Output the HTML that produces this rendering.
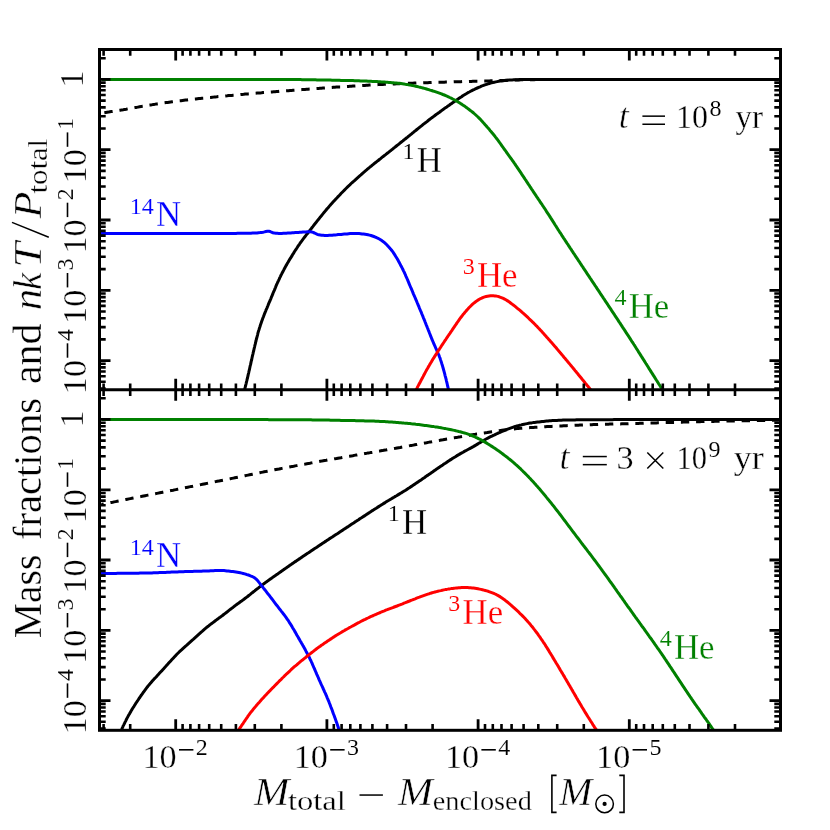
<!DOCTYPE html>
<html><head><meta charset="utf-8"><title>Mass fractions</title>
<style>html,body{margin:0;padding:0;background:#fff;}svg{display:block;will-change:transform;}text{font-family:"Liberation Serif",serif;stroke:#fff;stroke-width:0.3px;paint-order:fill stroke;}.s{stroke-width:0.1px;}.it{font-style:italic;stroke-width:0.5px;}</style></head><body>
<svg width="830" height="830" viewBox="0 0 830 830">
<rect width="830" height="830" fill="#fff"/>
<defs>
<clipPath id="ct"><rect x="99.5" y="49.5" width="681.0" height="340.3"/></clipPath>
<clipPath id="cb"><rect x="99.5" y="389.8" width="681.0" height="340.49999999999994"/></clipPath>
</defs>
<g clip-path="url(#ct)" fill="none" stroke-width="3.0" stroke-linejoin="round">
<path d="M101.5,113.1 L102.3,113.0 L103.3,112.9 L104.4,112.7 L105.7,112.5 L107.1,112.3 L108.5,112.1 L109.9,111.8 L111.4,111.6 L112.9,111.4 L114.3,111.1 L115.8,110.9 L117.3,110.7 L118.8,110.4 L120.3,110.2 L121.7,109.9 L123.2,109.7 L124.7,109.4 L126.2,109.2 L127.6,108.9 L129.1,108.6 L130.6,108.4 L132.1,108.1 L133.6,107.9 L135.0,107.6 L136.5,107.4 L138.0,107.1 L139.5,106.8 L141.0,106.6 L142.4,106.3 L143.9,106.1 L145.4,105.8 L146.9,105.6 L148.4,105.3 L149.8,105.1 L151.3,104.9 L152.8,104.6 L154.3,104.4 L155.8,104.1 L157.2,103.9 L158.7,103.7 L160.2,103.4 L161.7,103.2 L163.2,103.0 L164.7,102.8 L166.1,102.6 L167.6,102.4 L169.1,102.2 L170.6,102.0 L172.1,101.8 L173.6,101.6 L175.0,101.4 L176.5,101.2 L178.0,101.0 L179.5,100.8 L181.0,100.7 L182.5,100.5 L184.0,100.3 L185.5,100.1 L187.0,100.0 L188.4,99.8 L189.9,99.6 L191.4,99.4 L192.9,99.3 L194.4,99.1 L195.9,99.0 L197.4,98.8 L198.9,98.6 L200.4,98.5 L201.9,98.3 L203.4,98.2 L204.8,98.0 L206.3,97.8 L207.8,97.7 L209.3,97.5 L210.8,97.4 L212.3,97.2 L213.8,97.1 L215.3,96.9 L216.8,96.8 L218.3,96.6 L219.8,96.5 L221.3,96.4 L222.8,96.2 L224.3,96.1 L225.8,95.9 L227.2,95.8 L228.7,95.6 L230.2,95.5 L231.7,95.4 L233.2,95.2 L234.7,95.1 L236.2,94.9 L237.7,94.8 L239.2,94.7 L240.7,94.5 L242.2,94.4 L243.7,94.3 L245.2,94.1 L246.7,94.0 L248.2,93.9 L249.7,93.8 L251.2,93.6 L252.6,93.5 L254.1,93.4 L255.6,93.2 L257.1,93.1 L258.6,93.0 L260.1,92.9 L261.6,92.8 L263.1,92.6 L264.6,92.5 L266.1,92.4 L267.6,92.3 L269.1,92.2 L270.6,92.0 L272.1,91.9 L273.6,91.8 L275.1,91.7 L276.6,91.6 L278.1,91.5 L279.6,91.3 L281.1,91.2 L282.6,91.1 L284.0,91.0 L285.5,90.9 L287.0,90.8 L288.5,90.7 L290.0,90.5 L291.5,90.4 L293.0,90.3 L294.5,90.2 L296.0,90.1 L297.5,90.0 L299.0,89.9 L300.5,89.7 L302.0,89.6 L303.5,89.5 L305.0,89.4 L306.5,89.3 L308.0,89.2 L309.5,89.1 L311.0,89.0 L312.5,88.8 L314.0,88.7 L315.5,88.6 L317.0,88.5 L318.5,88.4 L319.9,88.3 L321.4,88.2 L322.9,88.1 L324.4,88.0 L325.9,87.9 L327.4,87.8 L328.9,87.7 L330.4,87.6 L331.9,87.5 L333.4,87.3 L334.9,87.2 L336.4,87.1 L337.9,87.0 L339.4,86.9 L340.9,86.9 L342.4,86.8 L343.9,86.7 L345.4,86.6 L346.9,86.5 L348.4,86.4 L349.9,86.3 L351.4,86.2 L352.9,86.1 L354.4,86.0 L355.9,85.9 L357.4,85.8 L358.9,85.7 L360.4,85.6 L361.9,85.6 L363.4,85.5 L364.9,85.4 L366.4,85.3 L367.8,85.2 L369.3,85.1 L370.8,85.0 L372.3,85.0 L373.8,84.9 L375.3,84.8 L376.8,84.7 L378.3,84.6 L379.8,84.6 L381.3,84.5 L382.8,84.4 L384.3,84.3 L385.8,84.3 L387.3,84.2 L388.8,84.1 L390.3,84.1 L391.8,84.0 L393.3,83.9 L394.8,83.9 L396.3,83.8 L397.8,83.7 L399.3,83.7 L400.8,83.6 L402.3,83.6 L403.8,83.5 L405.3,83.4 L406.8,83.4 L408.3,83.3 L409.8,83.3 L411.3,83.2 L412.8,83.2 L414.3,83.1 L415.8,83.1 L417.3,83.0 L418.8,83.0 L420.3,82.9 L421.8,82.9 L423.3,82.8 L424.8,82.8 L426.3,82.7 L427.8,82.7 L429.3,82.6 L430.8,82.6 L432.3,82.5 L433.8,82.5 L435.3,82.4 L436.8,82.4 L438.3,82.3 L439.8,82.3 L441.3,82.2 L442.8,82.2 L444.3,82.2 L445.8,82.1 L447.3,82.1 L448.8,82.0 L450.3,82.0 L451.8,81.9 L453.3,81.9 L454.8,81.8 L456.3,81.8 L457.8,81.8 L459.3,81.7 L460.8,81.7 L462.3,81.6 L463.8,81.6 L465.3,81.5 L466.8,81.5 L468.3,81.5 L469.8,81.4 L471.3,81.4 L472.8,81.3 L474.3,81.3 L475.8,81.2 L477.3,81.2 L478.8,81.2 L480.3,81.1 L481.8,81.1 L483.3,81.0 L484.8,81.0 L486.3,81.0 L487.8,80.9 L489.3,80.9 L490.8,80.8 L492.3,80.8 L493.8,80.7 L495.3,80.7 L496.8,80.6 L498.3,80.6 L499.8,80.5 L501.3,80.5 L502.8,80.4 L504.3,80.4 L505.8,80.3 L507.3,80.3 L508.8,80.2 L510.3,80.2 L511.8,80.1 L513.3,80.1 L514.8,80.0 L516.3,80.0 L517.8,79.9 L519.3,79.9 L520.8,79.8 L522.3,79.8 L523.7,79.8 L525.2,79.8 L526.7,79.7 L528.2,79.7 L529.7,79.7 L531.2,79.7 L532.7,79.7 L534.2,79.7 L535.7,79.6 L537.2,79.6 L538.7,79.6 L540.2,79.6 L541.7,79.6 L543.2,79.6 L544.7,79.6 L546.2,79.6 L547.7,79.6 L549.2,79.6 L550.7,79.5 L552.2,79.5 L553.7,79.5 L555.2,79.5 L556.7,79.5 L558.2,79.5 L559.7,79.5 L561.2,79.5 L562.7,79.5 L564.2,79.5 L565.7,79.5 L567.2,79.5 L568.7,79.5 L570.2,79.5 L571.7,79.4 L573.2,79.4 L574.7,79.4 L576.2,79.4 L577.7,79.4 L579.2,79.4 L580.7,79.4 L582.2,79.4 L583.7,79.4 L585.2,79.4 L586.7,79.4 L588.2,79.4 L589.7,79.4 L591.2,79.4 L592.7,79.4 L594.2,79.4 L595.7,79.4 L597.2,79.4 L598.7,79.4 L600.2,79.4 L601.7,79.4 L603.2,79.4 L604.7,79.4 L606.2,79.4 L607.7,79.4 L609.2,79.4 L610.7,79.4 L612.2,79.4 L613.7,79.4 L615.2,79.4 L616.7,79.4 L618.2,79.4 L619.7,79.4 L621.2,79.4 L622.7,79.4 L624.2,79.4 L625.7,79.4 L627.2,79.4 L628.7,79.4 L630.2,79.4 L631.7,79.4 L633.2,79.4 L634.7,79.4 L636.2,79.4 L637.7,79.4 L639.2,79.4 L640.7,79.4 L642.2,79.4 L643.7,79.4 L645.2,79.4 L646.7,79.4 L648.2,79.4 L649.7,79.4 L651.2,79.4 L652.7,79.4 L654.2,79.4 L655.7,79.4 L657.2,79.4 L658.7,79.4 L660.2,79.4 L661.7,79.4 L663.2,79.4 L664.7,79.4 L666.2,79.4 L667.7,79.4 L669.2,79.4 L670.7,79.4 L672.2,79.4 L673.7,79.4 L675.2,79.4 L676.7,79.4 L678.2,79.4 L679.7,79.4 L681.2,79.4 L682.7,79.4 L684.2,79.4 L685.7,79.4 L687.2,79.4 L688.7,79.4 L690.2,79.4 L691.7,79.4 L693.2,79.4 L694.7,79.4 L696.2,79.4 L697.7,79.4 L699.2,79.4 L700.7,79.4 L702.2,79.4 L703.7,79.4 L705.2,79.4 L706.7,79.4 L708.2,79.4 L709.7,79.4 L711.2,79.4 L712.7,79.4 L714.2,79.4 L715.7,79.4 L717.2,79.4 L718.7,79.4 L720.2,79.4 L721.7,79.4 L723.2,79.4 L724.7,79.4 L726.2,79.4 L727.7,79.4 L729.2,79.4 L730.7,79.4 L732.2,79.4 L733.7,79.4 L735.2,79.4 L736.7,79.4 L738.2,79.4 L739.7,79.4 L741.2,79.4 L742.7,79.4 L744.2,79.4 L745.7,79.4 L747.2,79.4 L748.7,79.4 L750.2,79.4 L751.7,79.4 L753.2,79.4 L754.7,79.4 L756.2,79.4 L757.7,79.4 L759.2,79.4 L760.7,79.4 L762.2,79.4 L763.7,79.4 L765.2,79.4 L766.7,79.4 L768.2,79.4 L769.7,79.4 L771.2,79.4 L772.6,79.4 L774.0,79.4 L775.3,79.4 L776.5,79.4 L777.6,79.4 L778.5,79.4" stroke="#000000" stroke-dasharray="8.4 6.87" stroke-dashoffset="12.4"/>
<path d="M243.8,393.1 L244.0,392.3 L244.2,391.3 L244.5,390.1 L244.8,388.9 L245.1,387.6 L245.5,386.2 L245.8,384.8 L246.2,383.3 L246.5,381.9 L246.9,380.4 L247.2,379.0 L247.6,377.5 L247.9,376.1 L248.2,374.6 L248.6,373.1 L248.9,371.7 L249.3,370.2 L249.6,368.7 L249.9,367.3 L250.2,365.8 L250.6,364.4 L250.9,362.9 L251.2,361.4 L251.6,360.0 L251.9,358.5 L252.2,357.0 L252.5,355.6 L252.9,354.1 L253.2,352.6 L253.6,351.2 L253.9,349.7 L254.2,348.3 L254.6,346.8 L254.9,345.3 L255.3,343.9 L255.6,342.4 L256.0,341.0 L256.3,339.5 L256.7,338.0 L257.1,336.6 L257.5,335.1 L257.8,333.7 L258.2,332.2 L258.6,330.8 L259.1,329.4 L259.5,327.9 L260.0,326.5 L260.4,325.1 L260.9,323.7 L261.4,322.2 L261.9,320.8 L262.4,319.4 L262.9,318.0 L263.5,316.6 L264.0,315.2 L264.5,313.8 L265.1,312.4 L265.7,311.0 L266.2,309.6 L266.8,308.3 L267.4,306.9 L268.0,305.5 L268.5,304.1 L269.1,302.7 L269.7,301.3 L270.3,300.0 L270.9,298.6 L271.4,297.2 L272.0,295.8 L272.6,294.4 L273.1,293.0 L273.7,291.6 L274.3,290.3 L274.9,288.9 L275.5,287.5 L276.0,286.1 L276.6,284.7 L277.2,283.4 L277.8,282.0 L278.5,280.6 L279.1,279.3 L279.7,277.9 L280.4,276.6 L281.0,275.2 L281.7,273.9 L282.4,272.5 L283.1,271.2 L283.8,269.9 L284.5,268.5 L285.2,267.2 L285.9,265.9 L286.7,264.6 L287.4,263.3 L288.2,262.0 L288.9,260.7 L289.7,259.4 L290.5,258.2 L291.3,256.9 L292.1,255.6 L292.8,254.3 L293.6,253.1 L294.4,251.8 L295.2,250.5 L296.0,249.3 L296.9,248.0 L297.7,246.7 L298.5,245.5 L299.4,244.3 L300.2,243.0 L301.1,241.8 L302.0,240.6 L302.9,239.4 L303.8,238.2 L304.7,237.0 L305.6,235.8 L306.5,234.6 L307.5,233.5 L308.4,232.3 L309.3,231.1 L310.2,229.9 L311.2,228.7 L312.1,227.5 L313.0,226.4 L313.9,225.2 L314.8,224.0 L315.8,222.8 L316.7,221.6 L317.6,220.4 L318.6,219.3 L319.5,218.1 L320.4,216.9 L321.4,215.8 L322.3,214.6 L323.3,213.4 L324.2,212.3 L325.2,211.1 L326.1,210.0 L327.1,208.8 L328.1,207.7 L329.0,206.6 L330.0,205.4 L331.0,204.3 L332.0,203.2 L333.0,202.1 L334.0,201.0 L335.1,199.9 L336.1,198.7 L337.1,197.7 L338.1,196.6 L339.2,195.5 L340.2,194.4 L341.2,193.3 L342.3,192.2 L343.3,191.2 L344.4,190.1 L345.5,189.0 L346.5,188.0 L347.6,186.9 L348.7,185.9 L349.8,184.9 L350.9,183.8 L351.9,182.8 L353.0,181.8 L354.2,180.8 L355.3,179.8 L356.4,178.8 L357.5,177.8 L358.6,176.8 L359.7,175.8 L360.9,174.8 L362.0,173.8 L363.1,172.8 L364.3,171.8 L365.4,170.9 L366.6,169.9 L367.7,168.9 L368.9,168.0 L370.0,167.0 L371.2,166.1 L372.3,165.1 L373.5,164.2 L374.7,163.2 L375.9,162.3 L377.0,161.4 L378.2,160.5 L379.4,159.5 L380.6,158.6 L381.7,157.7 L382.9,156.7 L384.1,155.8 L385.3,154.9 L386.5,153.9 L387.6,153.0 L388.8,152.1 L390.0,151.1 L391.2,150.2 L392.3,149.3 L393.5,148.3 L394.7,147.4 L395.8,146.5 L397.0,145.5 L398.2,144.6 L399.4,143.7 L400.5,142.7 L401.7,141.8 L402.9,140.9 L404.0,139.9 L405.2,139.0 L406.4,138.0 L407.6,137.1 L408.7,136.1 L409.9,135.2 L411.0,134.3 L412.2,133.3 L413.4,132.4 L414.5,131.4 L415.7,130.5 L416.9,129.5 L418.0,128.6 L419.2,127.6 L420.4,126.7 L421.5,125.8 L422.7,124.8 L423.9,123.9 L425.1,123.0 L426.3,122.1 L427.5,121.2 L428.6,120.2 L429.8,119.3 L431.0,118.4 L432.2,117.5 L433.4,116.6 L434.6,115.7 L435.8,114.8 L437.0,113.9 L438.3,113.0 L439.5,112.2 L440.7,111.3 L441.9,110.4 L443.1,109.5 L444.3,108.6 L445.5,107.8 L446.8,106.9 L448.0,106.0 L449.2,105.2 L450.4,104.3 L451.7,103.4 L452.9,102.6 L454.1,101.7 L455.4,100.9 L456.6,100.0 L457.8,99.2 L459.1,98.3 L460.3,97.5 L461.6,96.7 L462.8,95.8 L464.1,95.0 L465.4,94.2 L466.6,93.5 L467.9,92.7 L469.3,92.0 L470.6,91.3 L471.9,90.6 L473.2,89.9 L474.6,89.3 L475.9,88.6 L477.3,88.0 L478.7,87.4 L480.1,86.8 L481.4,86.2 L482.8,85.7 L484.2,85.1 L485.6,84.6 L487.1,84.2 L488.5,83.7 L489.9,83.3 L491.4,82.9 L492.8,82.5 L494.3,82.2 L495.8,81.9 L497.2,81.6 L498.7,81.3 L500.2,81.1 L501.7,80.9 L503.2,80.7 L504.6,80.5 L506.1,80.4 L507.6,80.2 L509.1,80.1 L510.6,80.0 L512.1,79.9 L513.6,79.8 L515.1,79.8 L516.6,79.7 L518.1,79.7 L519.6,79.6 L521.1,79.6 L522.6,79.6 L524.1,79.5 L525.6,79.5 L527.1,79.5 L528.6,79.5 L530.1,79.4 L531.6,79.4 L533.1,79.4 L534.6,79.4 L536.1,79.4 L537.6,79.4 L539.1,79.4 L540.6,79.4 L542.1,79.4 L543.6,79.4 L545.1,79.4 L546.6,79.4 L548.1,79.4 L549.6,79.4 L551.1,79.4 L552.6,79.4 L554.1,79.4 L555.6,79.4 L557.1,79.4 L558.6,79.4 L560.1,79.4 L561.6,79.4 L563.1,79.4 L564.6,79.4 L566.1,79.4 L567.6,79.4 L569.1,79.4 L570.6,79.4 L572.1,79.4 L573.6,79.4 L575.1,79.4 L576.6,79.4 L578.1,79.4 L579.6,79.4 L581.1,79.4 L582.6,79.4 L584.1,79.4 L585.6,79.4 L587.1,79.4 L588.6,79.4 L590.1,79.4 L591.6,79.4 L593.1,79.4 L594.6,79.4 L596.1,79.4 L597.6,79.4 L599.1,79.4 L600.6,79.4 L602.1,79.4 L603.6,79.4 L605.1,79.4 L606.6,79.4 L608.1,79.4 L609.6,79.4 L611.1,79.4 L612.6,79.4 L614.1,79.4 L615.6,79.4 L617.1,79.4 L618.6,79.4 L620.1,79.4 L621.6,79.4 L623.1,79.4 L624.6,79.4 L626.1,79.4 L627.6,79.4 L629.1,79.4 L630.6,79.4 L632.1,79.4 L633.6,79.4 L635.1,79.4 L636.6,79.4 L638.1,79.4 L639.6,79.4 L641.1,79.4 L642.6,79.4 L644.1,79.4 L645.6,79.4 L647.1,79.4 L648.6,79.4 L650.1,79.4 L651.6,79.4 L653.1,79.4 L654.6,79.4 L656.1,79.4 L657.6,79.4 L659.1,79.4 L660.6,79.4 L662.1,79.4 L663.6,79.4 L665.1,79.4 L666.6,79.4 L668.1,79.4 L669.6,79.4 L671.1,79.4 L672.6,79.4 L674.1,79.4 L675.6,79.4 L677.1,79.4 L678.6,79.4 L680.1,79.4 L681.6,79.4 L683.1,79.4 L684.6,79.4 L686.1,79.4 L687.6,79.4 L689.1,79.4 L690.6,79.4 L692.1,79.4 L693.6,79.4 L695.1,79.4 L696.6,79.4 L698.1,79.4 L699.6,79.4 L701.1,79.4 L702.6,79.4 L704.1,79.4 L705.6,79.4 L707.1,79.4 L708.6,79.4 L710.1,79.4 L711.6,79.4 L713.1,79.4 L714.6,79.4 L716.1,79.4 L717.6,79.4 L719.1,79.4 L720.6,79.4 L722.1,79.4 L723.6,79.4 L725.1,79.4 L726.6,79.4 L728.1,79.4 L729.6,79.4 L731.1,79.4 L732.6,79.4 L734.1,79.4 L735.6,79.4 L737.1,79.4 L738.6,79.4 L740.1,79.4 L741.6,79.4 L743.1,79.4 L744.6,79.4 L746.1,79.4 L747.6,79.4 L749.1,79.4 L750.6,79.4 L752.1,79.4 L753.6,79.4 L755.1,79.4 L756.6,79.4 L758.1,79.4 L759.6,79.4 L761.1,79.4 L762.6,79.4 L764.1,79.4 L765.6,79.4 L767.1,79.4 L768.6,79.4 L770.1,79.4 L771.5,79.4 L773.0,79.4 L774.3,79.4 L775.6,79.4 L776.8,79.4 L777.8,79.4 L778.6,79.4" stroke="#000000"/>
<path d="M101.5,79.4 L102.3,79.4 L103.3,79.4 L104.5,79.4 L105.8,79.4 L107.1,79.4 L108.6,79.4 L110.0,79.4 L111.5,79.4 L113.0,79.4 L114.5,79.4 L116.0,79.4 L117.5,79.4 L119.0,79.4 L120.5,79.4 L122.0,79.4 L123.5,79.4 L125.0,79.4 L126.5,79.4 L128.0,79.4 L129.5,79.4 L131.0,79.4 L132.5,79.4 L134.0,79.4 L135.5,79.4 L137.0,79.4 L138.5,79.4 L140.0,79.4 L141.5,79.4 L143.0,79.4 L144.5,79.4 L146.0,79.4 L147.5,79.4 L149.0,79.4 L150.5,79.4 L152.0,79.4 L153.5,79.4 L155.0,79.4 L156.5,79.4 L158.0,79.4 L159.5,79.4 L161.0,79.4 L162.5,79.4 L164.0,79.4 L165.5,79.4 L167.0,79.4 L168.5,79.4 L170.0,79.4 L171.5,79.4 L173.0,79.4 L174.5,79.4 L176.0,79.4 L177.5,79.4 L179.0,79.4 L180.5,79.4 L182.0,79.4 L183.5,79.4 L185.0,79.4 L186.5,79.4 L188.0,79.4 L189.5,79.4 L191.0,79.4 L192.5,79.4 L194.0,79.4 L195.5,79.4 L197.0,79.4 L198.5,79.4 L200.0,79.4 L201.5,79.4 L203.0,79.4 L204.5,79.4 L206.0,79.4 L207.5,79.4 L209.0,79.4 L210.5,79.4 L212.0,79.4 L213.5,79.4 L215.0,79.4 L216.5,79.4 L218.0,79.4 L219.5,79.4 L221.0,79.4 L222.5,79.4 L224.0,79.4 L225.5,79.4 L227.0,79.4 L228.5,79.4 L230.0,79.4 L231.5,79.4 L233.0,79.4 L234.5,79.4 L236.0,79.4 L237.5,79.4 L239.0,79.4 L240.5,79.4 L242.0,79.4 L243.5,79.4 L245.0,79.4 L246.5,79.4 L248.0,79.5 L249.5,79.5 L251.0,79.5 L252.5,79.5 L254.0,79.5 L255.5,79.5 L257.0,79.5 L258.5,79.5 L260.0,79.5 L261.5,79.5 L263.0,79.5 L264.5,79.5 L266.0,79.5 L267.5,79.5 L269.0,79.5 L270.5,79.5 L272.0,79.5 L273.5,79.5 L275.0,79.5 L276.5,79.5 L278.0,79.5 L279.5,79.5 L281.0,79.5 L282.5,79.6 L284.0,79.6 L285.5,79.6 L287.0,79.6 L288.5,79.6 L290.0,79.6 L291.5,79.6 L293.0,79.6 L294.5,79.6 L296.0,79.6 L297.5,79.6 L299.0,79.6 L300.5,79.6 L302.0,79.7 L303.5,79.7 L305.0,79.7 L306.5,79.7 L308.0,79.7 L309.5,79.7 L311.0,79.8 L312.5,79.8 L314.0,79.8 L315.5,79.8 L317.0,79.9 L318.5,79.9 L320.0,79.9 L321.5,79.9 L323.0,80.0 L324.5,80.0 L326.0,80.0 L327.5,80.1 L329.0,80.1 L330.5,80.1 L332.0,80.2 L333.5,80.2 L335.0,80.2 L336.5,80.3 L338.0,80.3 L339.5,80.3 L341.0,80.4 L342.5,80.4 L344.0,80.4 L345.5,80.5 L347.0,80.5 L348.5,80.5 L350.0,80.6 L351.5,80.6 L353.0,80.6 L354.5,80.7 L356.0,80.7 L357.5,80.8 L359.0,80.8 L360.5,80.9 L362.0,80.9 L363.5,81.0 L365.0,81.0 L366.5,81.1 L368.0,81.2 L369.5,81.2 L371.0,81.3 L372.5,81.4 L374.0,81.4 L375.5,81.5 L377.0,81.6 L378.5,81.7 L380.0,81.8 L381.5,81.9 L383.0,82.0 L384.5,82.1 L385.9,82.2 L387.4,82.3 L388.9,82.4 L390.4,82.5 L391.9,82.7 L393.4,82.8 L394.9,82.9 L396.4,83.0 L397.9,83.2 L399.4,83.3 L400.9,83.5 L402.4,83.7 L403.9,83.9 L405.3,84.2 L406.8,84.4 L408.3,84.7 L409.8,84.9 L411.2,85.2 L412.7,85.5 L414.2,85.9 L415.6,86.2 L417.1,86.5 L418.6,86.9 L420.0,87.2 L421.5,87.6 L422.9,88.0 L424.4,88.4 L425.8,88.8 L427.3,89.2 L428.7,89.6 L430.1,90.1 L431.6,90.5 L433.0,91.0 L434.4,91.4 L435.8,91.9 L437.3,92.4 L438.7,92.9 L440.1,93.4 L441.5,93.9 L442.9,94.5 L444.3,95.0 L445.7,95.6 L447.0,96.2 L448.4,96.8 L449.8,97.5 L451.1,98.1 L452.4,98.8 L453.8,99.5 L455.1,100.2 L456.4,100.9 L457.7,101.7 L459.0,102.5 L460.2,103.3 L461.5,104.1 L462.7,104.9 L464.0,105.8 L465.2,106.6 L466.4,107.5 L467.6,108.4 L468.8,109.3 L470.0,110.2 L471.2,111.1 L472.4,112.0 L473.6,113.0 L474.7,114.0 L475.8,115.0 L476.9,116.0 L478.0,117.0 L479.1,118.1 L480.1,119.1 L481.1,120.2 L482.1,121.3 L483.1,122.4 L484.1,123.6 L485.1,124.7 L486.1,125.8 L487.1,127.0 L488.1,128.1 L489.1,129.2 L490.0,130.4 L491.0,131.5 L492.0,132.7 L492.9,133.8 L493.9,135.0 L494.8,136.2 L495.7,137.4 L496.6,138.5 L497.5,139.7 L498.4,140.9 L499.3,142.2 L500.2,143.4 L501.1,144.6 L501.9,145.8 L502.8,147.0 L503.7,148.3 L504.5,149.5 L505.4,150.7 L506.3,151.9 L507.1,153.2 L508.0,154.4 L508.9,155.6 L509.8,156.8 L510.6,158.0 L511.5,159.2 L512.4,160.5 L513.3,161.7 L514.1,162.9 L515.0,164.1 L515.8,165.4 L516.7,166.6 L517.5,167.8 L518.4,169.1 L519.2,170.3 L520.1,171.6 L520.9,172.8 L521.7,174.1 L522.5,175.3 L523.4,176.6 L524.2,177.8 L525.0,179.1 L525.9,180.3 L526.7,181.6 L527.5,182.8 L528.3,184.1 L529.2,185.3 L530.0,186.6 L530.8,187.8 L531.6,189.1 L532.5,190.3 L533.3,191.6 L534.1,192.8 L535.0,194.1 L535.8,195.3 L536.6,196.6 L537.5,197.8 L538.3,199.1 L539.2,200.3 L540.0,201.6 L540.8,202.8 L541.7,204.0 L542.5,205.3 L543.3,206.5 L544.2,207.8 L545.0,209.0 L545.8,210.3 L546.6,211.6 L547.4,212.8 L548.3,214.1 L549.1,215.3 L549.9,216.6 L550.7,217.9 L551.5,219.1 L552.3,220.4 L553.1,221.7 L553.9,222.9 L554.7,224.2 L555.5,225.5 L556.3,226.7 L557.1,228.0 L557.9,229.3 L558.7,230.5 L559.5,231.8 L560.4,233.0 L561.2,234.3 L562.0,235.6 L562.8,236.8 L563.6,238.1 L564.5,239.3 L565.3,240.6 L566.1,241.8 L566.9,243.1 L567.8,244.3 L568.6,245.6 L569.4,246.8 L570.2,248.1 L571.1,249.3 L571.9,250.6 L572.7,251.8 L573.5,253.1 L574.4,254.3 L575.2,255.6 L576.0,256.8 L576.9,258.1 L577.7,259.3 L578.5,260.6 L579.4,261.8 L580.2,263.1 L581.0,264.3 L581.8,265.6 L582.7,266.8 L583.5,268.1 L584.3,269.3 L585.2,270.6 L586.0,271.8 L586.8,273.1 L587.6,274.3 L588.5,275.6 L589.3,276.8 L590.1,278.1 L591.0,279.3 L591.8,280.6 L592.6,281.8 L593.5,283.1 L594.3,284.3 L595.1,285.6 L596.0,286.8 L596.8,288.1 L597.6,289.3 L598.5,290.6 L599.3,291.8 L600.1,293.1 L600.9,294.3 L601.8,295.6 L602.6,296.8 L603.4,298.1 L604.3,299.3 L605.1,300.6 L605.9,301.8 L606.8,303.1 L607.6,304.3 L608.4,305.6 L609.2,306.8 L610.1,308.1 L610.9,309.3 L611.7,310.6 L612.5,311.8 L613.4,313.1 L614.2,314.3 L615.0,315.6 L615.8,316.8 L616.7,318.1 L617.5,319.3 L618.3,320.6 L619.1,321.9 L620.0,323.1 L620.8,324.4 L621.6,325.6 L622.4,326.9 L623.2,328.1 L624.1,329.4 L624.9,330.6 L625.7,331.9 L626.5,333.2 L627.3,334.4 L628.2,335.7 L629.0,336.9 L629.8,338.2 L630.6,339.4 L631.4,340.7 L632.2,342.0 L633.1,343.2 L633.9,344.5 L634.7,345.7 L635.5,347.0 L636.3,348.3 L637.1,349.5 L637.9,350.8 L638.7,352.1 L639.5,353.3 L640.3,354.6 L641.1,355.9 L641.9,357.1 L642.7,358.4 L643.5,359.7 L644.3,360.9 L645.1,362.2 L645.9,363.5 L646.7,364.7 L647.5,366.0 L648.3,367.3 L649.1,368.6 L649.9,369.8 L650.7,371.1 L651.5,372.4 L652.3,373.6 L653.1,374.9 L653.9,376.2 L654.7,377.4 L655.5,378.7 L656.3,380.0 L657.1,381.2 L657.9,382.5 L658.7,383.8 L659.5,385.0 L660.3,386.3 L661.1,387.5 L661.9,388.7 L662.6,389.8 L663.3,390.9 L664.0,391.9 L664.5,392.7 L665.0,393.4" stroke="#008000"/>
<path d="M100.0,233.4 L101.1,233.4 L102.5,233.4 L104.0,233.4 L105.5,233.4 L107.0,233.4 L108.5,233.4 L110.0,233.4 L111.5,233.4 L113.0,233.4 L114.5,233.4 L116.0,233.4 L117.5,233.4 L119.0,233.4 L120.5,233.5 L122.0,233.5 L123.5,233.5 L125.0,233.5 L126.5,233.5 L128.0,233.5 L129.5,233.5 L131.0,233.5 L132.5,233.5 L134.0,233.5 L135.5,233.5 L137.0,233.5 L138.5,233.5 L140.0,233.5 L141.5,233.5 L143.0,233.5 L144.5,233.5 L146.0,233.5 L147.5,233.5 L149.0,233.5 L150.5,233.5 L152.0,233.5 L153.5,233.5 L155.0,233.5 L156.5,233.5 L158.0,233.5 L159.5,233.5 L161.0,233.5 L162.5,233.5 L164.0,233.5 L165.5,233.5 L167.0,233.5 L168.5,233.5 L170.0,233.5 L171.5,233.5 L173.0,233.5 L174.5,233.5 L176.0,233.5 L177.5,233.5 L179.0,233.5 L180.5,233.5 L182.0,233.5 L183.5,233.5 L185.0,233.5 L186.5,233.5 L188.0,233.5 L189.5,233.5 L191.0,233.5 L192.5,233.5 L194.0,233.5 L195.5,233.5 L197.0,233.5 L198.5,233.5 L200.0,233.5 L201.5,233.5 L203.0,233.5 L204.5,233.5 L206.0,233.5 L207.5,233.5 L209.0,233.5 L210.5,233.5 L212.0,233.5 L213.5,233.5 L215.0,233.5 L216.5,233.5 L218.0,233.5 L219.5,233.5 L221.0,233.5 L222.5,233.4 L224.0,233.4 L225.5,233.4 L227.0,233.4 L228.5,233.4 L230.0,233.4 L231.5,233.4 L233.0,233.4 L234.5,233.4 L236.0,233.4 L237.5,233.3 L239.0,233.3 L240.5,233.3 L242.0,233.3 L243.5,233.3 L245.0,233.3 L246.5,233.2 L248.0,233.2 L249.5,233.2 L251.0,233.2 L252.5,233.1 L254.0,233.1 L255.5,233.0 L257.0,232.9 L258.5,232.7 L260.0,232.6 L261.5,232.4 L263.0,232.2 L264.5,231.9 L265.9,231.5 L267.4,231.2 L268.8,231.2 L270.2,231.5 L271.5,232.2 L272.9,232.8 L274.3,233.1 L275.8,233.2 L277.3,233.3 L278.8,233.4 L280.3,233.4 L281.8,233.4 L283.3,233.3 L284.8,233.3 L286.3,233.2 L287.8,233.1 L289.3,233.0 L290.8,232.9 L292.3,232.8 L293.8,232.7 L295.3,232.6 L296.8,232.5 L298.3,232.4 L299.9,232.3 L301.4,232.2 L302.9,232.0 L304.4,231.9 L305.9,231.9 L307.4,231.8 L308.9,231.7 L310.3,231.7 L311.7,231.9 L313.1,232.4 L314.5,233.0 L315.9,233.7 L317.3,234.3 L318.7,234.8 L320.2,235.0 L321.7,235.2 L323.2,235.3 L324.7,235.4 L326.2,235.4 L327.7,235.4 L329.2,235.3 L330.7,235.2 L332.2,235.2 L333.7,235.0 L335.2,234.9 L336.7,234.8 L338.2,234.6 L339.7,234.5 L341.2,234.4 L342.7,234.2 L344.2,234.1 L345.6,234.0 L347.1,233.9 L348.6,233.7 L350.1,233.6 L351.6,233.5 L353.1,233.5 L354.6,233.4 L356.1,233.4 L357.6,233.5 L359.1,233.6 L360.6,233.7 L362.1,233.9 L363.6,234.1 L365.1,234.3 L366.6,234.5 L368.0,234.8 L369.5,235.1 L371.0,235.5 L372.4,236.0 L373.9,236.5 L375.3,237.1 L376.6,237.7 L378.0,238.3 L379.3,239.0 L380.5,239.7 L381.8,240.6 L383.0,241.5 L384.2,242.4 L385.3,243.4 L386.5,244.5 L387.5,245.6 L388.6,246.7 L389.5,247.8 L390.5,248.9 L391.4,250.0 L392.3,251.2 L393.2,252.4 L394.0,253.7 L394.8,254.9 L395.6,256.2 L396.4,257.5 L397.2,258.8 L398.0,260.1 L398.7,261.5 L399.4,262.8 L400.1,264.1 L400.8,265.5 L401.5,266.8 L402.2,268.1 L402.9,269.5 L403.5,270.8 L404.2,272.2 L404.8,273.5 L405.4,274.9 L406.0,276.3 L406.6,277.6 L407.2,279.0 L407.8,280.4 L408.4,281.8 L408.9,283.2 L409.5,284.6 L410.1,286.0 L410.7,287.4 L411.3,288.7 L411.9,290.1 L412.5,291.5 L413.0,292.9 L413.6,294.3 L414.2,295.6 L414.8,297.0 L415.4,298.4 L416.0,299.8 L416.6,301.2 L417.1,302.5 L417.7,303.9 L418.3,305.3 L418.9,306.7 L419.4,308.1 L420.0,309.5 L420.6,310.9 L421.2,312.2 L421.7,313.6 L422.3,315.0 L422.9,316.4 L423.4,317.8 L424.0,319.2 L424.6,320.6 L425.1,322.0 L425.7,323.4 L426.2,324.8 L426.8,326.2 L427.3,327.5 L427.9,328.9 L428.4,330.3 L429.0,331.7 L429.5,333.1 L430.1,334.5 L430.6,335.9 L431.2,337.3 L431.7,338.7 L432.3,340.1 L432.9,341.5 L433.5,342.9 L434.0,344.2 L434.7,345.6 L435.3,347.0 L435.9,348.4 L436.5,349.7 L437.1,351.1 L437.7,352.5 L438.3,353.9 L438.9,355.2 L439.4,356.6 L440.0,358.0 L440.4,359.4 L440.9,360.9 L441.4,362.3 L441.8,363.7 L442.3,365.2 L442.7,366.6 L443.1,368.0 L443.5,369.5 L443.9,370.9 L444.3,372.4 L444.7,373.8 L445.0,375.3 L445.4,376.7 L445.8,378.2 L446.2,379.7 L446.5,381.1 L446.9,382.6 L447.2,384.0 L447.5,385.5 L447.9,387.0 L448.2,388.4 L448.5,389.9 L448.8,391.4 L449.1,392.8 L449.3,394.2" stroke="#0000ff"/>
<path d="M414.4,393.2 L414.8,392.5 L415.3,391.6 L415.8,390.6 L416.4,389.4 L417.0,388.2 L417.6,386.9 L418.3,385.6 L419.0,384.3 L419.7,383.0 L420.4,381.7 L421.1,380.3 L421.8,379.0 L422.5,377.7 L423.2,376.4 L423.9,375.0 L424.6,373.7 L425.3,372.4 L426.0,371.1 L426.7,369.8 L427.5,368.5 L428.2,367.2 L429.0,365.9 L429.7,364.6 L430.5,363.3 L431.3,362.0 L432.0,360.7 L432.8,359.4 L433.6,358.2 L434.4,356.9 L435.2,355.6 L436.0,354.3 L436.8,353.1 L437.6,351.8 L438.4,350.5 L439.3,349.3 L440.1,348.0 L440.9,346.8 L441.7,345.5 L442.5,344.3 L443.4,343.0 L444.2,341.8 L445.0,340.5 L445.9,339.3 L446.7,338.0 L447.5,336.8 L448.4,335.5 L449.2,334.3 L450.1,333.1 L450.9,331.8 L451.8,330.6 L452.6,329.3 L453.4,328.1 L454.3,326.8 L455.1,325.6 L456.0,324.4 L456.8,323.1 L457.7,321.9 L458.6,320.7 L459.4,319.4 L460.3,318.2 L461.2,317.0 L462.1,315.8 L463.0,314.6 L464.0,313.5 L464.9,312.3 L465.9,311.2 L466.9,310.0 L467.9,308.9 L468.9,307.8 L470.0,306.7 L471.0,305.7 L472.1,304.6 L473.2,303.6 L474.4,302.7 L475.6,301.8 L476.8,300.9 L478.0,300.1 L479.3,299.3 L480.6,298.6 L481.9,298.0 L483.3,297.4 L484.7,296.9 L486.1,296.5 L487.5,296.2 L489.0,296.0 L490.5,295.8 L491.9,295.8 L493.4,295.8 L494.9,295.9 L496.3,296.1 L497.8,296.4 L499.2,296.8 L500.6,297.3 L502.0,297.8 L503.3,298.4 L504.6,299.1 L505.9,299.8 L507.2,300.6 L508.5,301.4 L509.7,302.3 L510.9,303.2 L512.1,304.1 L513.3,305.0 L514.5,305.9 L515.7,306.9 L516.8,307.8 L518.0,308.8 L519.1,309.7 L520.3,310.7 L521.4,311.7 L522.5,312.7 L523.7,313.7 L524.8,314.7 L525.9,315.7 L527.0,316.7 L528.1,317.7 L529.2,318.8 L530.3,319.8 L531.4,320.8 L532.4,321.9 L533.5,322.9 L534.6,324.0 L535.6,325.1 L536.7,326.1 L537.7,327.2 L538.7,328.3 L539.8,329.4 L540.8,330.5 L541.8,331.6 L542.8,332.7 L543.8,333.8 L544.8,334.9 L545.8,336.0 L546.8,337.2 L547.8,338.3 L548.8,339.4 L549.8,340.5 L550.8,341.7 L551.8,342.8 L552.8,343.9 L553.7,345.1 L554.7,346.2 L555.7,347.3 L556.7,348.5 L557.6,349.6 L558.6,350.8 L559.6,351.9 L560.5,353.1 L561.5,354.2 L562.5,355.4 L563.4,356.5 L564.4,357.7 L565.4,358.8 L566.3,360.0 L567.3,361.1 L568.2,362.3 L569.2,363.4 L570.2,364.6 L571.1,365.7 L572.1,366.9 L573.0,368.0 L574.0,369.2 L574.9,370.4 L575.9,371.5 L576.8,372.7 L577.8,373.8 L578.7,375.0 L579.7,376.2 L580.6,377.3 L581.6,378.5 L582.5,379.7 L583.5,380.8 L584.4,382.0 L585.3,383.2 L586.3,384.3 L587.2,385.5 L588.2,386.6 L589.1,387.8 L590.0,388.9 L590.9,390.0 L591.7,391.0 L592.5,391.9 L593.1,392.7 L593.7,393.4" stroke="#ff0000"/>
</g>
<g clip-path="url(#cb)" fill="none" stroke-width="3.0" stroke-linejoin="round">
<path d="M101.5,504.4 L102.3,504.2 L103.3,504.0 L104.4,503.8 L105.7,503.6 L107.0,503.3 L108.4,503.0 L109.8,502.7 L111.3,502.4 L112.7,502.2 L114.2,501.9 L115.7,501.6 L117.2,501.3 L118.6,501.0 L120.1,500.7 L121.6,500.4 L123.0,500.1 L124.5,499.8 L126.0,499.5 L127.4,499.2 L128.9,498.9 L130.4,498.6 L131.9,498.3 L133.3,498.1 L134.8,497.8 L136.3,497.5 L137.7,497.2 L139.2,496.9 L140.7,496.6 L142.2,496.3 L143.6,496.0 L145.1,495.7 L146.6,495.4 L148.0,495.1 L149.5,494.8 L151.0,494.5 L152.5,494.2 L153.9,494.0 L155.4,493.7 L156.9,493.4 L158.3,493.1 L159.8,492.8 L161.3,492.5 L162.8,492.2 L164.2,491.9 L165.7,491.6 L167.2,491.3 L168.6,491.0 L170.1,490.7 L171.6,490.4 L173.1,490.2 L174.5,489.9 L176.0,489.6 L177.5,489.3 L178.9,489.0 L180.4,488.7 L181.9,488.4 L183.4,488.1 L184.8,487.8 L186.3,487.5 L187.8,487.2 L189.2,486.9 L190.7,486.6 L192.2,486.4 L193.7,486.1 L195.1,485.8 L196.6,485.5 L198.1,485.2 L199.5,484.9 L201.0,484.6 L202.5,484.3 L204.0,484.0 L205.4,483.7 L206.9,483.4 L208.4,483.1 L209.8,482.8 L211.3,482.5 L212.8,482.2 L214.2,481.9 L215.7,481.6 L217.2,481.3 L218.7,481.1 L220.1,480.8 L221.6,480.5 L223.1,480.2 L224.5,479.9 L226.0,479.6 L227.5,479.3 L228.9,479.0 L230.4,478.7 L231.9,478.4 L233.4,478.1 L234.8,477.8 L236.3,477.5 L237.8,477.2 L239.2,476.9 L240.7,476.6 L242.2,476.3 L243.7,476.0 L245.1,475.7 L246.6,475.4 L248.1,475.1 L249.5,474.8 L251.0,474.5 L252.5,474.2 L253.9,473.9 L255.4,473.6 L256.9,473.3 L258.4,473.0 L259.8,472.7 L261.3,472.4 L262.8,472.1 L264.2,471.8 L265.7,471.6 L267.2,471.3 L268.7,471.0 L270.1,470.7 L271.6,470.4 L273.1,470.1 L274.5,469.8 L276.0,469.5 L277.5,469.2 L279.0,469.0 L280.4,468.7 L281.9,468.4 L283.4,468.1 L284.8,467.8 L286.3,467.5 L287.8,467.3 L289.3,467.0 L290.7,466.7 L292.2,466.4 L293.7,466.2 L295.2,465.9 L296.6,465.6 L298.1,465.3 L299.6,465.1 L301.1,464.8 L302.5,464.5 L304.0,464.2 L305.5,464.0 L307.0,463.7 L308.4,463.4 L309.9,463.2 L311.4,462.9 L312.9,462.6 L314.3,462.4 L315.8,462.1 L317.3,461.8 L318.8,461.6 L320.3,461.3 L321.7,461.1 L323.2,460.8 L324.7,460.5 L326.2,460.3 L327.6,460.0 L329.1,459.8 L330.6,459.5 L332.1,459.2 L333.5,459.0 L335.0,458.7 L336.5,458.5 L338.0,458.2 L339.5,457.9 L340.9,457.7 L342.4,457.4 L343.9,457.2 L345.4,456.9 L346.8,456.7 L348.3,456.4 L349.8,456.2 L351.3,455.9 L352.8,455.7 L354.2,455.4 L355.7,455.1 L357.2,454.9 L358.7,454.6 L360.2,454.4 L361.6,454.1 L363.1,453.9 L364.6,453.6 L366.1,453.4 L367.5,453.1 L369.0,452.9 L370.5,452.6 L372.0,452.4 L373.5,452.1 L374.9,451.8 L376.4,451.6 L377.9,451.3 L379.4,451.1 L380.9,450.8 L382.3,450.6 L383.8,450.3 L385.3,450.1 L386.8,449.8 L388.2,449.5 L389.7,449.3 L391.2,449.0 L392.7,448.8 L394.2,448.5 L395.6,448.3 L397.1,448.0 L398.6,447.7 L400.1,447.5 L401.5,447.2 L403.0,446.9 L404.5,446.7 L406.0,446.4 L407.4,446.2 L408.9,445.9 L410.4,445.6 L411.9,445.4 L413.4,445.1 L414.8,444.8 L416.3,444.6 L417.8,444.3 L419.3,444.0 L420.7,443.7 L422.2,443.5 L423.7,443.2 L425.2,442.9 L426.6,442.7 L428.1,442.4 L429.6,442.1 L431.1,441.9 L432.5,441.6 L434.0,441.3 L435.5,441.1 L437.0,440.8 L438.5,440.5 L439.9,440.3 L441.4,440.0 L442.9,439.8 L444.4,439.5 L445.8,439.2 L447.3,439.0 L448.8,438.7 L450.3,438.5 L451.8,438.2 L453.2,437.9 L454.7,437.7 L456.2,437.4 L457.7,437.2 L459.1,436.9 L460.6,436.7 L462.1,436.4 L463.6,436.2 L465.1,435.9 L466.5,435.7 L468.0,435.4 L469.5,435.2 L471.0,435.0 L472.5,434.7 L473.9,434.5 L475.4,434.3 L476.9,434.0 L478.4,433.8 L479.9,433.6 L481.4,433.4 L482.8,433.1 L484.3,432.9 L485.8,432.7 L487.3,432.5 L488.8,432.2 L490.3,432.0 L491.7,431.8 L493.2,431.6 L494.7,431.4 L496.2,431.2 L497.7,431.0 L499.2,430.7 L500.6,430.5 L502.1,430.3 L503.6,430.1 L505.1,429.9 L506.6,429.7 L508.1,429.6 L509.6,429.4 L511.1,429.2 L512.6,429.0 L514.0,428.9 L515.5,428.7 L517.0,428.6 L518.5,428.4 L520.0,428.3 L521.5,428.2 L523.0,428.1 L524.5,428.0 L526.0,427.9 L527.5,427.8 L529.0,427.7 L530.5,427.6 L532.0,427.5 L533.5,427.4 L535.0,427.3 L536.5,427.2 L538.0,427.1 L539.5,427.0 L541.0,426.9 L542.5,426.9 L544.0,426.8 L545.5,426.7 L547.0,426.6 L548.5,426.5 L550.0,426.5 L551.5,426.4 L553.0,426.3 L554.5,426.2 L556.0,426.2 L557.5,426.1 L558.9,426.0 L560.4,426.0 L561.9,425.9 L563.4,425.8 L564.9,425.7 L566.4,425.7 L567.9,425.6 L569.4,425.5 L570.9,425.5 L572.4,425.4 L573.9,425.4 L575.4,425.3 L576.9,425.2 L578.4,425.2 L579.9,425.1 L581.4,425.1 L582.9,425.0 L584.4,424.9 L585.9,424.9 L587.4,424.8 L588.9,424.8 L590.4,424.7 L591.9,424.7 L593.4,424.6 L594.9,424.6 L596.4,424.5 L597.9,424.5 L599.4,424.4 L600.9,424.4 L602.4,424.4 L603.9,424.3 L605.4,424.3 L606.9,424.2 L608.4,424.2 L609.9,424.1 L611.4,424.1 L612.9,424.1 L614.4,424.0 L615.9,424.0 L617.4,423.9 L618.9,423.9 L620.4,423.9 L621.9,423.8 L623.4,423.8 L624.9,423.7 L626.4,423.7 L627.9,423.7 L629.4,423.6 L630.9,423.6 L632.4,423.5 L633.9,423.5 L635.4,423.5 L636.9,423.4 L638.4,423.4 L639.9,423.3 L641.4,423.3 L642.9,423.3 L644.4,423.2 L645.9,423.2 L647.4,423.1 L648.9,423.1 L650.4,423.0 L651.9,423.0 L653.4,423.0 L654.9,422.9 L656.4,422.9 L657.9,422.8 L659.4,422.8 L660.9,422.7 L662.4,422.7 L663.9,422.6 L665.4,422.6 L666.9,422.6 L668.4,422.5 L669.9,422.5 L671.4,422.4 L672.9,422.4 L674.4,422.4 L675.9,422.3 L677.4,422.3 L678.9,422.2 L680.4,422.2 L681.9,422.2 L683.4,422.1 L684.9,422.1 L686.4,422.0 L687.9,422.0 L689.4,422.0 L690.9,421.9 L692.4,421.9 L693.9,421.8 L695.4,421.8 L696.9,421.8 L698.4,421.7 L699.9,421.7 L701.4,421.6 L702.9,421.6 L704.4,421.6 L705.9,421.5 L707.4,421.5 L708.9,421.5 L710.4,421.4 L711.9,421.4 L713.4,421.4 L714.9,421.3 L716.4,421.3 L717.9,421.3 L719.4,421.2 L720.9,421.2 L722.4,421.2 L723.9,421.1 L725.4,421.1 L726.9,421.1 L728.4,421.0 L729.9,421.0 L731.4,421.0 L732.9,420.9 L734.4,420.9 L735.9,420.9 L737.4,420.9 L738.9,420.8 L740.4,420.8 L741.9,420.8 L743.4,420.8 L744.9,420.7 L746.4,420.7 L747.9,420.7 L749.4,420.7 L750.9,420.6 L752.4,420.6 L753.9,420.6 L755.4,420.6 L756.9,420.5 L758.4,420.5 L759.9,420.5 L761.4,420.5 L762.9,420.4 L764.4,420.4 L765.9,420.4 L767.4,420.4 L768.9,420.4 L770.3,420.3 L771.8,420.3 L773.2,420.3 L774.6,420.3 L775.9,420.3 L777.0,420.2 L778.0,420.2 L778.9,420.2" stroke="#000000" stroke-dasharray="8.35 6.85" stroke-dashoffset="6.1"/>
<path d="M119.6,733.7 L120.0,732.9 L120.4,732.0 L120.9,731.0 L121.4,729.8 L122.0,728.6 L122.6,727.3 L123.2,725.9 L123.9,724.6 L124.5,723.3 L125.2,721.9 L125.9,720.6 L126.5,719.2 L127.2,717.9 L127.9,716.6 L128.6,715.3 L129.4,714.0 L130.1,712.7 L130.9,711.4 L131.6,710.1 L132.4,708.8 L133.2,707.5 L134.0,706.3 L134.8,705.0 L135.6,703.7 L136.4,702.5 L137.3,701.2 L138.1,700.0 L138.9,698.7 L139.8,697.5 L140.6,696.2 L141.5,695.0 L142.3,693.8 L143.2,692.5 L144.1,691.3 L145.0,690.1 L145.9,688.9 L146.8,687.7 L147.7,686.5 L148.6,685.4 L149.6,684.2 L150.6,683.1 L151.5,682.0 L152.5,680.8 L153.5,679.7 L154.5,678.6 L155.6,677.5 L156.6,676.4 L157.6,675.3 L158.6,674.2 L159.6,673.1 L160.6,672.0 L161.7,670.9 L162.7,669.8 L163.7,668.7 L164.7,667.6 L165.7,666.4 L166.7,665.3 L167.7,664.2 L168.7,663.1 L169.7,662.0 L170.7,660.9 L171.7,659.8 L172.7,658.7 L173.8,657.6 L174.8,656.5 L175.8,655.4 L176.9,654.3 L177.9,653.3 L179.0,652.2 L180.1,651.2 L181.2,650.2 L182.3,649.1 L183.4,648.1 L184.5,647.1 L185.6,646.1 L186.8,645.1 L187.9,644.1 L189.0,643.1 L190.1,642.1 L191.2,641.1 L192.3,640.1 L193.5,639.1 L194.6,638.1 L195.7,637.1 L196.8,636.1 L197.9,635.1 L199.0,634.1 L200.1,633.1 L201.2,632.1 L202.4,631.1 L203.5,630.1 L204.6,629.1 L205.8,628.1 L206.9,627.2 L208.1,626.3 L209.3,625.3 L210.5,624.4 L211.7,623.5 L212.9,622.6 L214.1,621.7 L215.3,620.8 L216.5,619.9 L217.7,619.0 L218.9,618.1 L220.1,617.3 L221.3,616.4 L222.5,615.5 L223.7,614.5 L224.9,613.6 L226.1,612.7 L227.3,611.8 L228.4,610.9 L229.6,609.9 L230.8,609.0 L232.0,608.1 L233.2,607.2 L234.3,606.3 L235.5,605.4 L236.7,604.5 L238.0,603.6 L239.2,602.7 L240.4,601.8 L241.6,601.0 L242.8,600.1 L244.0,599.2 L245.2,598.3 L246.4,597.4 L247.6,596.5 L248.8,595.5 L250.0,594.6 L251.1,593.7 L252.3,592.7 L253.5,591.8 L254.7,590.9 L255.8,589.9 L257.0,589.0 L258.2,588.1 L259.4,587.1 L260.6,586.2 L261.8,585.3 L263.0,584.4 L264.2,583.5 L265.4,582.6 L266.6,581.8 L267.8,580.9 L269.0,580.0 L270.2,579.1 L271.5,578.3 L272.7,577.4 L273.9,576.5 L275.1,575.7 L276.4,574.8 L277.6,574.0 L278.8,573.1 L280.0,572.2 L281.3,571.4 L282.5,570.5 L283.7,569.6 L285.0,568.8 L286.2,567.9 L287.4,567.1 L288.6,566.2 L289.9,565.3 L291.1,564.5 L292.3,563.6 L293.6,562.8 L294.8,561.9 L296.1,561.1 L297.3,560.2 L298.5,559.4 L299.8,558.6 L301.0,557.7 L302.3,556.9 L303.5,556.0 L304.7,555.2 L306.0,554.4 L307.2,553.5 L308.5,552.7 L309.7,551.9 L311.0,551.0 L312.2,550.2 L313.5,549.4 L314.7,548.5 L316.0,547.7 L317.2,546.9 L318.5,546.0 L319.7,545.2 L321.0,544.4 L322.2,543.6 L323.5,542.7 L324.7,541.9 L326.0,541.1 L327.2,540.3 L328.5,539.4 L329.7,538.6 L331.0,537.8 L332.3,537.0 L333.5,536.1 L334.8,535.3 L336.0,534.5 L337.3,533.7 L338.5,532.9 L339.8,532.0 L341.0,531.2 L342.3,530.4 L343.5,529.6 L344.8,528.7 L346.1,527.9 L347.3,527.1 L348.6,526.3 L349.8,525.5 L351.1,524.6 L352.3,523.8 L353.6,523.0 L354.8,522.1 L356.1,521.3 L357.3,520.5 L358.6,519.7 L359.8,518.8 L361.1,518.0 L362.3,517.2 L363.6,516.4 L364.9,515.6 L366.1,514.7 L367.4,513.9 L368.6,513.1 L369.9,512.3 L371.1,511.5 L372.4,510.6 L373.7,509.8 L374.9,509.0 L376.2,508.2 L377.4,507.4 L378.7,506.6 L380.0,505.8 L381.2,505.0 L382.5,504.2 L383.8,503.4 L385.1,502.6 L386.3,501.8 L387.6,501.0 L388.9,500.3 L390.2,499.5 L391.5,498.7 L392.8,497.9 L394.0,497.2 L395.3,496.4 L396.6,495.7 L397.9,494.9 L399.2,494.1 L400.5,493.3 L401.8,492.6 L403.0,491.8 L404.3,491.0 L405.6,490.2 L406.8,489.4 L408.1,488.5 L409.4,487.7 L410.6,486.9 L411.9,486.1 L413.1,485.2 L414.4,484.4 L415.6,483.6 L416.8,482.7 L418.1,481.9 L419.3,481.1 L420.6,480.2 L421.8,479.4 L423.0,478.5 L424.3,477.7 L425.5,476.8 L426.7,475.9 L428.0,475.1 L429.2,474.2 L430.4,473.4 L431.7,472.5 L432.9,471.7 L434.1,470.8 L435.4,469.9 L436.6,469.1 L437.8,468.2 L439.1,467.4 L440.3,466.6 L441.6,465.7 L442.8,464.9 L444.0,464.0 L445.3,463.2 L446.5,462.4 L447.8,461.5 L449.0,460.7 L450.3,459.9 L451.6,459.1 L452.8,458.3 L454.1,457.5 L455.4,456.7 L456.6,455.9 L457.9,455.1 L459.2,454.4 L460.5,453.6 L461.8,452.9 L463.1,452.2 L464.4,451.4 L465.8,450.7 L467.1,450.0 L468.4,449.3 L469.7,448.6 L471.0,447.9 L472.4,447.1 L473.7,446.4 L475.0,445.6 L476.2,444.9 L477.5,444.1 L478.8,443.3 L480.1,442.6 L481.4,441.8 L482.7,441.0 L484.0,440.3 L485.3,439.5 L486.6,438.8 L487.9,438.1 L489.2,437.4 L490.6,436.7 L491.9,436.1 L493.3,435.4 L494.6,434.8 L496.0,434.1 L497.3,433.5 L498.7,432.9 L500.1,432.3 L501.5,431.7 L502.8,431.1 L504.2,430.5 L505.6,429.9 L507.0,429.3 L508.4,428.8 L509.8,428.3 L511.2,427.8 L512.6,427.3 L514.1,426.8 L515.5,426.4 L516.9,426.0 L518.4,425.6 L519.8,425.2 L521.3,424.9 L522.7,424.5 L524.2,424.2 L525.7,423.9 L527.2,423.6 L528.6,423.3 L530.1,423.1 L531.6,422.9 L533.1,422.6 L534.6,422.4 L536.0,422.2 L537.5,422.0 L539.0,421.9 L540.5,421.7 L542.0,421.5 L543.5,421.4 L545.0,421.2 L546.5,421.1 L548.0,421.0 L549.5,420.8 L551.0,420.7 L552.5,420.6 L554.0,420.5 L555.5,420.4 L557.0,420.4 L558.5,420.3 L560.0,420.2 L561.5,420.2 L563.0,420.1 L564.5,420.1 L566.0,420.0 L567.5,420.0 L569.0,420.0 L570.5,419.9 L572.0,419.9 L573.5,419.9 L575.0,419.9 L576.5,419.8 L578.0,419.8 L579.5,419.8 L581.0,419.8 L582.5,419.8 L584.0,419.7 L585.5,419.7 L587.0,419.7 L588.5,419.7 L590.0,419.7 L591.5,419.7 L593.0,419.7 L594.5,419.7 L596.0,419.7 L597.5,419.7 L599.0,419.7 L600.5,419.7 L602.0,419.7 L603.5,419.7 L605.0,419.7 L606.5,419.7 L608.0,419.7 L609.5,419.7 L611.0,419.7 L612.5,419.7 L614.0,419.6 L615.5,419.6 L617.0,419.6 L618.5,419.6 L620.0,419.6 L621.5,419.6 L623.0,419.6 L624.5,419.6 L626.0,419.6 L627.5,419.6 L629.0,419.6 L630.5,419.6 L632.0,419.6 L633.5,419.6 L635.0,419.6 L636.5,419.6 L638.0,419.6 L639.5,419.6 L641.0,419.6 L642.5,419.6 L644.0,419.6 L645.5,419.6 L647.0,419.6 L648.5,419.6 L650.0,419.6 L651.5,419.6 L653.0,419.6 L654.5,419.6 L656.0,419.6 L657.5,419.6 L659.0,419.6 L660.5,419.6 L662.0,419.6 L663.5,419.6 L665.0,419.6 L666.5,419.6 L668.0,419.6 L669.5,419.6 L671.0,419.6 L672.5,419.6 L674.0,419.6 L675.5,419.6 L677.0,419.6 L678.5,419.6 L680.0,419.6 L681.5,419.6 L683.0,419.6 L684.5,419.6 L686.0,419.6 L687.5,419.6 L689.0,419.6 L690.5,419.6 L692.0,419.6 L693.5,419.6 L695.0,419.6 L696.5,419.6 L698.0,419.6 L699.5,419.6 L701.0,419.6 L702.5,419.6 L704.0,419.6 L705.5,419.6 L707.0,419.6 L708.5,419.6 L710.0,419.6 L711.5,419.6 L713.0,419.6 L714.5,419.6 L716.0,419.6 L717.5,419.6 L719.0,419.6 L720.5,419.6 L722.0,419.6 L723.5,419.6 L725.0,419.6 L726.5,419.6 L728.0,419.6 L729.5,419.6 L731.0,419.6 L732.5,419.6 L734.0,419.6 L735.5,419.6 L737.0,419.6 L738.5,419.6 L740.0,419.6 L741.5,419.6 L743.0,419.6 L744.5,419.6 L746.0,419.6 L747.5,419.6 L749.0,419.6 L750.5,419.6 L752.0,419.6 L753.5,419.6 L755.0,419.6 L756.5,419.6 L758.0,419.6 L759.5,419.6 L761.0,419.6 L762.5,419.6 L764.0,419.6 L765.5,419.6 L767.0,419.6 L768.5,419.6 L769.9,419.6 L771.4,419.6 L772.8,419.6 L774.2,419.6 L775.5,419.6 L776.7,419.6 L777.8,419.6 L778.7,419.6" stroke="#000000"/>
<path d="M101.5,419.6 L102.3,419.6 L103.3,419.6 L104.5,419.6 L105.8,419.6 L107.1,419.6 L108.6,419.6 L110.0,419.6 L111.5,419.6 L113.0,419.6 L114.5,419.6 L116.0,419.6 L117.5,419.6 L119.0,419.6 L120.5,419.6 L122.0,419.6 L123.5,419.6 L125.0,419.6 L126.5,419.6 L128.0,419.6 L129.5,419.6 L131.0,419.6 L132.5,419.6 L134.0,419.6 L135.5,419.6 L137.0,419.6 L138.5,419.6 L140.0,419.6 L141.5,419.6 L143.0,419.6 L144.5,419.6 L146.0,419.6 L147.5,419.6 L149.0,419.6 L150.5,419.6 L152.0,419.6 L153.5,419.6 L155.0,419.6 L156.5,419.6 L158.0,419.6 L159.5,419.6 L161.0,419.6 L162.5,419.6 L164.0,419.6 L165.5,419.6 L167.0,419.6 L168.5,419.6 L170.0,419.6 L171.5,419.6 L173.0,419.6 L174.5,419.6 L176.0,419.6 L177.5,419.6 L179.0,419.6 L180.5,419.6 L182.0,419.6 L183.5,419.6 L185.0,419.6 L186.5,419.6 L188.0,419.6 L189.5,419.6 L191.0,419.6 L192.5,419.6 L194.0,419.6 L195.5,419.6 L197.0,419.6 L198.5,419.6 L200.0,419.6 L201.5,419.6 L203.0,419.6 L204.5,419.6 L206.0,419.6 L207.5,419.6 L209.0,419.6 L210.5,419.6 L212.0,419.6 L213.5,419.6 L215.0,419.6 L216.5,419.6 L218.0,419.6 L219.5,419.6 L221.0,419.6 L222.5,419.6 L224.0,419.6 L225.5,419.6 L227.0,419.6 L228.5,419.6 L230.0,419.6 L231.5,419.6 L233.0,419.6 L234.5,419.6 L236.0,419.6 L237.5,419.6 L239.0,419.6 L240.5,419.6 L242.0,419.6 L243.5,419.6 L245.0,419.6 L246.5,419.6 L248.0,419.6 L249.5,419.6 L251.0,419.6 L252.5,419.6 L254.0,419.6 L255.5,419.6 L257.0,419.6 L258.5,419.6 L260.0,419.6 L261.5,419.6 L263.0,419.6 L264.5,419.6 L266.0,419.6 L267.5,419.6 L269.0,419.7 L270.5,419.7 L272.0,419.7 L273.5,419.7 L275.0,419.7 L276.5,419.7 L278.0,419.7 L279.5,419.7 L281.0,419.7 L282.5,419.7 L284.0,419.7 L285.5,419.7 L287.0,419.7 L288.5,419.7 L290.0,419.7 L291.5,419.7 L293.0,419.7 L294.5,419.7 L296.0,419.7 L297.5,419.7 L299.0,419.7 L300.5,419.7 L302.0,419.7 L303.5,419.8 L305.0,419.8 L306.5,419.8 L308.0,419.8 L309.5,419.8 L311.0,419.8 L312.5,419.9 L314.0,419.9 L315.5,419.9 L317.0,419.9 L318.5,419.9 L320.0,420.0 L321.5,420.0 L323.0,420.0 L324.5,420.0 L326.0,420.1 L327.5,420.1 L329.0,420.1 L330.5,420.2 L332.0,420.2 L333.5,420.2 L335.0,420.2 L336.5,420.3 L338.0,420.3 L339.5,420.3 L341.0,420.4 L342.5,420.4 L344.0,420.4 L345.5,420.4 L347.0,420.5 L348.5,420.5 L350.0,420.5 L351.5,420.6 L353.0,420.6 L354.5,420.6 L356.0,420.7 L357.5,420.7 L359.0,420.7 L360.5,420.8 L362.0,420.8 L363.5,420.8 L365.0,420.9 L366.5,420.9 L368.0,420.9 L369.5,421.0 L371.0,421.0 L372.5,421.1 L374.0,421.1 L375.5,421.2 L377.0,421.2 L378.5,421.3 L380.0,421.4 L381.5,421.4 L383.0,421.5 L384.5,421.6 L386.0,421.7 L387.5,421.8 L389.0,421.9 L390.5,422.0 L392.0,422.1 L393.5,422.2 L395.0,422.3 L396.4,422.4 L397.9,422.5 L399.4,422.7 L400.9,422.8 L402.4,422.9 L403.9,423.1 L405.4,423.2 L406.9,423.3 L408.4,423.5 L409.9,423.6 L411.4,423.8 L412.9,423.9 L414.4,424.1 L415.9,424.3 L417.4,424.4 L418.8,424.6 L420.3,424.8 L421.8,425.0 L423.3,425.2 L424.8,425.4 L426.3,425.6 L427.8,425.8 L429.3,426.0 L430.7,426.2 L432.2,426.4 L433.7,426.6 L435.2,426.9 L436.7,427.1 L438.2,427.3 L439.6,427.6 L441.1,427.8 L442.6,428.1 L444.1,428.4 L445.5,428.6 L447.0,428.9 L448.5,429.2 L450.0,429.5 L451.4,429.8 L452.9,430.1 L454.4,430.4 L455.8,430.8 L457.3,431.1 L458.8,431.5 L460.2,431.8 L461.7,432.2 L463.1,432.6 L464.5,433.0 L466.0,433.4 L467.4,433.9 L468.8,434.4 L470.2,434.9 L471.6,435.5 L473.0,436.0 L474.4,436.6 L475.7,437.3 L477.1,437.9 L478.4,438.6 L479.8,439.2 L481.1,439.9 L482.4,440.7 L483.7,441.4 L485.0,442.1 L486.3,442.9 L487.6,443.7 L488.9,444.5 L490.1,445.3 L491.4,446.1 L492.7,446.9 L493.9,447.7 L495.2,448.6 L496.4,449.4 L497.6,450.3 L498.8,451.1 L500.1,452.0 L501.3,452.9 L502.5,453.8 L503.7,454.7 L504.9,455.6 L506.1,456.5 L507.3,457.4 L508.4,458.4 L509.6,459.3 L510.8,460.2 L511.9,461.2 L513.1,462.2 L514.2,463.1 L515.3,464.1 L516.5,465.1 L517.6,466.1 L518.7,467.1 L519.8,468.2 L520.9,469.2 L521.9,470.2 L523.0,471.3 L524.1,472.3 L525.1,473.4 L526.2,474.5 L527.2,475.5 L528.3,476.6 L529.3,477.7 L530.4,478.8 L531.4,479.9 L532.4,481.0 L533.4,482.1 L534.4,483.2 L535.4,484.3 L536.4,485.5 L537.4,486.6 L538.4,487.7 L539.4,488.8 L540.4,490.0 L541.3,491.1 L542.3,492.3 L543.3,493.4 L544.2,494.6 L545.2,495.7 L546.1,496.9 L547.1,498.1 L548.0,499.2 L549.0,500.4 L549.9,501.6 L550.9,502.7 L551.8,503.9 L552.7,505.1 L553.7,506.2 L554.6,507.4 L555.5,508.6 L556.4,509.8 L557.4,511.0 L558.3,512.1 L559.2,513.3 L560.1,514.5 L561.0,515.7 L561.9,516.9 L562.8,518.1 L563.7,519.3 L564.6,520.5 L565.5,521.7 L566.4,522.9 L567.3,524.1 L568.2,525.3 L569.1,526.5 L570.0,527.7 L570.9,528.9 L571.8,530.1 L572.7,531.3 L573.6,532.5 L574.5,533.7 L575.4,534.9 L576.3,536.1 L577.2,537.3 L578.2,538.5 L579.1,539.7 L580.0,540.9 L580.9,542.1 L581.8,543.3 L582.7,544.5 L583.6,545.7 L584.5,546.8 L585.4,548.0 L586.3,549.2 L587.2,550.4 L588.1,551.6 L589.1,552.8 L590.0,554.0 L590.9,555.2 L591.8,556.4 L592.7,557.6 L593.6,558.8 L594.5,560.0 L595.4,561.2 L596.3,562.4 L597.2,563.6 L598.1,564.8 L599.0,566.0 L599.8,567.2 L600.7,568.4 L601.6,569.6 L602.5,570.9 L603.4,572.1 L604.3,573.3 L605.1,574.5 L606.0,575.7 L606.9,576.9 L607.8,578.1 L608.7,579.4 L609.5,580.6 L610.4,581.8 L611.3,583.0 L612.1,584.2 L613.0,585.5 L613.9,586.7 L614.7,587.9 L615.6,589.1 L616.5,590.4 L617.3,591.6 L618.2,592.8 L619.1,594.0 L619.9,595.3 L620.8,596.5 L621.7,597.7 L622.5,598.9 L623.4,600.2 L624.3,601.4 L625.1,602.6 L626.0,603.8 L626.9,605.1 L627.7,606.3 L628.6,607.5 L629.5,608.7 L630.4,609.9 L631.2,611.2 L632.1,612.4 L633.0,613.6 L633.8,614.8 L634.7,616.0 L635.6,617.3 L636.5,618.5 L637.3,619.7 L638.2,620.9 L639.1,622.1 L640.0,623.4 L640.9,624.6 L641.7,625.8 L642.6,627.0 L643.5,628.2 L644.4,629.4 L645.2,630.7 L646.1,631.9 L647.0,633.1 L647.9,634.3 L648.7,635.5 L649.6,636.8 L650.5,638.0 L651.4,639.2 L652.2,640.4 L653.1,641.6 L654.0,642.9 L654.8,644.1 L655.7,645.3 L656.5,646.5 L657.4,647.8 L658.3,649.0 L659.1,650.2 L660.0,651.5 L660.8,652.7 L661.7,653.9 L662.5,655.2 L663.4,656.4 L664.2,657.7 L665.0,658.9 L665.9,660.1 L666.7,661.4 L667.5,662.6 L668.4,663.9 L669.2,665.1 L670.0,666.4 L670.9,667.6 L671.7,668.9 L672.5,670.1 L673.3,671.4 L674.2,672.6 L675.0,673.9 L675.8,675.2 L676.6,676.4 L677.5,677.7 L678.3,678.9 L679.1,680.2 L679.9,681.4 L680.8,682.7 L681.6,683.9 L682.4,685.2 L683.2,686.4 L684.1,687.7 L684.9,688.9 L685.7,690.2 L686.6,691.4 L687.4,692.7 L688.2,693.9 L689.1,695.2 L689.9,696.4 L690.8,697.6 L691.6,698.9 L692.5,700.1 L693.3,701.3 L694.2,702.6 L695.0,703.8 L695.9,705.0 L696.8,706.3 L697.6,707.5 L698.5,708.7 L699.4,709.9 L700.2,711.2 L701.1,712.4 L701.9,713.6 L702.8,714.8 L703.7,716.1 L704.5,717.3 L705.4,718.5 L706.3,719.7 L707.1,721.0 L708.0,722.2 L708.9,723.4 L709.7,724.7 L710.6,725.9 L711.4,727.1 L712.2,728.3 L713.0,729.5 L713.8,730.6 L714.5,731.7 L715.1,732.7 L715.7,733.5 L716.1,734.2" stroke="#008000"/>
<path d="M100.0,573.4 L101.1,573.4 L102.5,573.4 L104.0,573.4 L105.5,573.4 L107.0,573.4 L108.5,573.4 L110.0,573.4 L111.5,573.4 L113.0,573.4 L114.5,573.4 L116.0,573.4 L117.5,573.3 L119.0,573.3 L120.5,573.3 L122.0,573.3 L123.5,573.3 L125.0,573.3 L126.5,573.3 L128.0,573.3 L129.5,573.2 L131.0,573.2 L132.5,573.2 L134.0,573.2 L135.5,573.2 L137.0,573.2 L138.5,573.2 L140.0,573.1 L141.5,573.1 L143.0,573.1 L144.5,573.1 L146.0,573.1 L147.5,573.0 L149.0,573.0 L150.5,572.9 L152.0,572.9 L153.5,572.8 L155.0,572.8 L156.5,572.7 L158.0,572.7 L159.5,572.6 L161.0,572.5 L162.5,572.5 L164.0,572.4 L165.5,572.4 L167.0,572.3 L168.5,572.3 L170.0,572.2 L171.5,572.1 L173.0,572.1 L174.5,572.0 L176.0,572.0 L177.5,571.9 L179.0,571.8 L180.5,571.8 L182.0,571.7 L183.5,571.7 L185.0,571.6 L186.5,571.6 L188.0,571.5 L189.5,571.5 L191.0,571.4 L192.5,571.4 L194.0,571.3 L195.5,571.3 L197.0,571.3 L198.5,571.2 L200.0,571.2 L201.5,571.2 L203.0,571.1 L204.5,571.1 L206.0,571.0 L207.5,570.9 L209.0,570.9 L210.5,570.8 L212.0,570.7 L213.5,570.7 L215.0,570.6 L216.5,570.6 L218.0,570.5 L219.5,570.5 L221.0,570.5 L222.5,570.6 L224.0,570.6 L225.4,570.7 L226.9,570.9 L228.4,571.0 L229.9,571.2 L231.4,571.4 L232.9,571.6 L234.4,571.8 L235.9,572.0 L237.4,572.2 L238.8,572.5 L240.3,572.8 L241.8,573.1 L243.2,573.5 L244.7,573.9 L246.1,574.3 L247.6,574.8 L249.0,575.2 L250.4,575.8 L251.9,576.4 L253.2,577.0 L254.5,577.8 L255.6,578.6 L256.7,579.6 L257.7,580.7 L258.6,581.9 L259.6,583.1 L260.5,584.3 L261.4,585.5 L262.4,586.7 L263.3,587.9 L264.2,589.0 L265.2,590.2 L266.1,591.4 L267.0,592.6 L267.9,593.8 L268.9,594.9 L269.8,596.1 L270.7,597.3 L271.6,598.5 L272.5,599.7 L273.4,600.9 L274.3,602.1 L275.2,603.3 L276.1,604.5 L277.1,605.7 L278.0,606.9 L278.9,608.1 L279.8,609.3 L280.7,610.4 L281.6,611.6 L282.6,612.8 L283.5,614.0 L284.4,615.2 L285.3,616.4 L286.2,617.6 L287.0,618.8 L287.9,620.0 L288.7,621.3 L289.5,622.6 L290.3,623.8 L291.1,625.1 L291.9,626.4 L292.6,627.7 L293.4,629.0 L294.2,630.3 L294.9,631.6 L295.7,632.9 L296.4,634.2 L297.1,635.5 L297.9,636.8 L298.6,638.1 L299.4,639.4 L300.1,640.7 L300.9,642.0 L301.6,643.3 L302.4,644.6 L303.1,645.9 L303.9,647.2 L304.6,648.5 L305.3,649.8 L306.0,651.2 L306.7,652.5 L307.4,653.8 L308.1,655.1 L308.8,656.5 L309.5,657.8 L310.1,659.2 L310.8,660.5 L311.4,661.9 L312.0,663.2 L312.6,664.6 L313.2,666.0 L313.8,667.4 L314.4,668.7 L315.0,670.1 L315.6,671.5 L316.2,672.9 L316.8,674.3 L317.4,675.6 L318.0,677.0 L318.6,678.4 L319.2,679.8 L319.8,681.1 L320.4,682.5 L321.0,683.9 L321.6,685.2 L322.3,686.6 L322.9,688.0 L323.5,689.3 L324.1,690.7 L324.7,692.1 L325.4,693.4 L326.0,694.8 L326.6,696.2 L327.1,697.6 L327.7,698.9 L328.3,700.3 L328.9,701.7 L329.4,703.1 L330.0,704.5 L330.5,705.9 L331.0,707.3 L331.6,708.7 L332.1,710.1 L332.6,711.5 L333.1,712.9 L333.6,714.3 L334.2,715.8 L334.7,717.2 L335.2,718.6 L335.7,720.0 L336.2,721.4 L336.7,722.8 L337.2,724.2 L337.7,725.7 L338.1,727.1 L338.6,728.5 L339.1,729.9 L339.6,731.3 L340.1,732.8 L340.5,734.1 L340.9,735.2" stroke="#0000ff"/>
<path d="M235.7,733.9 L236.2,733.2 L236.8,732.4 L237.5,731.5 L238.2,730.4 L239.0,729.3 L239.8,728.2 L240.7,727.0 L241.5,725.7 L242.3,724.5 L243.2,723.3 L244.0,722.0 L244.8,720.8 L245.7,719.5 L246.5,718.3 L247.4,717.1 L248.2,715.8 L249.1,714.6 L250.0,713.4 L250.9,712.2 L251.9,711.1 L252.8,709.9 L253.7,708.7 L254.7,707.6 L255.7,706.4 L256.6,705.3 L257.6,704.1 L258.6,703.0 L259.6,701.9 L260.6,700.7 L261.6,699.6 L262.6,698.5 L263.6,697.4 L264.6,696.3 L265.6,695.2 L266.7,694.1 L267.7,693.0 L268.7,691.9 L269.8,690.9 L270.8,689.8 L271.8,688.7 L272.9,687.6 L274.0,686.6 L275.0,685.5 L276.1,684.4 L277.1,683.4 L278.2,682.3 L279.2,681.2 L280.3,680.2 L281.4,679.1 L282.4,678.0 L283.5,677.0 L284.5,675.9 L285.6,674.9 L286.7,673.8 L287.8,672.8 L288.9,671.8 L290.0,670.8 L291.1,669.7 L292.2,668.7 L293.3,667.7 L294.4,666.7 L295.5,665.8 L296.7,664.8 L297.8,663.8 L299.0,662.8 L300.1,661.9 L301.3,660.9 L302.5,660.0 L303.6,659.1 L304.8,658.1 L306.0,657.2 L307.1,656.2 L308.3,655.3 L309.5,654.4 L310.7,653.4 L311.8,652.5 L313.0,651.6 L314.2,650.6 L315.4,649.7 L316.6,648.8 L317.8,647.9 L319.0,647.0 L320.2,646.2 L321.4,645.3 L322.7,644.5 L323.9,643.6 L325.1,642.8 L326.4,641.9 L327.6,641.1 L328.9,640.2 L330.1,639.4 L331.4,638.6 L332.6,637.7 L333.9,636.9 L335.1,636.1 L336.4,635.3 L337.7,634.5 L339.0,633.7 L340.2,633.0 L341.5,632.2 L342.8,631.4 L344.1,630.7 L345.4,629.9 L346.7,629.2 L348.0,628.5 L349.3,627.7 L350.7,627.0 L352.0,626.3 L353.3,625.6 L354.6,624.9 L355.9,624.1 L357.2,623.4 L358.6,622.7 L359.9,622.0 L361.2,621.3 L362.5,620.6 L363.9,619.9 L365.2,619.3 L366.6,618.6 L367.9,618.0 L369.3,617.3 L370.6,616.7 L372.0,616.1 L373.4,615.5 L374.7,614.9 L376.1,614.3 L377.5,613.7 L378.9,613.1 L380.3,612.5 L381.6,611.9 L383.0,611.3 L384.4,610.8 L385.8,610.2 L387.2,609.7 L388.6,609.1 L390.0,608.6 L391.4,608.1 L392.8,607.6 L394.2,607.0 L395.6,606.5 L397.0,606.0 L398.4,605.4 L399.8,604.9 L401.2,604.3 L402.6,603.8 L404.0,603.2 L405.4,602.7 L406.8,602.1 L408.2,601.5 L409.6,601.0 L411.0,600.4 L412.4,599.9 L413.8,599.3 L415.2,598.8 L416.6,598.2 L418.0,597.7 L419.4,597.2 L420.8,596.6 L422.2,596.1 L423.6,595.6 L425.0,595.1 L426.4,594.6 L427.8,594.1 L429.3,593.7 L430.7,593.2 L432.1,592.8 L433.6,592.4 L435.0,592.0 L436.5,591.6 L437.9,591.2 L439.4,590.9 L440.8,590.6 L442.3,590.2 L443.8,589.9 L445.3,589.6 L446.7,589.4 L448.2,589.1 L449.7,588.9 L451.2,588.6 L452.7,588.4 L454.1,588.2 L455.6,588.1 L457.1,587.9 L458.6,587.8 L460.1,587.7 L461.6,587.6 L463.1,587.6 L464.6,587.6 L466.1,587.6 L467.6,587.6 L469.1,587.7 L470.6,587.8 L472.1,587.9 L473.5,588.1 L475.0,588.3 L476.5,588.5 L478.0,588.8 L479.5,589.1 L480.9,589.4 L482.4,589.7 L483.8,590.1 L485.3,590.5 L486.7,590.9 L488.2,591.3 L489.6,591.8 L491.0,592.3 L492.4,592.8 L493.8,593.4 L495.1,594.0 L496.5,594.7 L497.8,595.4 L499.1,596.1 L500.4,596.9 L501.6,597.7 L502.8,598.6 L504.0,599.4 L505.2,600.3 L506.4,601.3 L507.6,602.2 L508.7,603.2 L509.9,604.2 L511.0,605.1 L512.1,606.1 L513.2,607.1 L514.4,608.2 L515.5,609.2 L516.6,610.2 L517.7,611.2 L518.8,612.2 L519.8,613.3 L520.9,614.3 L522.0,615.4 L523.0,616.4 L524.1,617.5 L525.1,618.6 L526.1,619.7 L527.1,620.8 L528.1,621.9 L529.1,623.1 L530.1,624.2 L531.0,625.4 L532.0,626.5 L532.9,627.7 L533.8,628.9 L534.8,630.1 L535.7,631.3 L536.6,632.5 L537.5,633.7 L538.3,634.9 L539.2,636.1 L540.1,637.3 L540.9,638.6 L541.8,639.8 L542.6,641.0 L543.4,642.3 L544.3,643.5 L545.1,644.8 L545.9,646.1 L546.7,647.3 L547.5,648.6 L548.3,649.9 L549.1,651.2 L549.8,652.5 L550.6,653.7 L551.4,655.0 L552.2,656.3 L552.9,657.6 L553.7,658.9 L554.5,660.2 L555.3,661.5 L556.0,662.7 L556.8,664.0 L557.6,665.3 L558.4,666.6 L559.1,667.9 L559.9,669.2 L560.6,670.5 L561.4,671.8 L562.2,673.1 L562.9,674.3 L563.7,675.6 L564.5,676.9 L565.2,678.2 L566.0,679.5 L566.7,680.8 L567.5,682.1 L568.2,683.4 L569.0,684.7 L569.8,686.0 L570.5,687.3 L571.3,688.6 L572.0,689.9 L572.8,691.2 L573.5,692.5 L574.3,693.8 L575.0,695.1 L575.8,696.4 L576.5,697.7 L577.3,699.0 L578.0,700.3 L578.8,701.6 L579.6,702.9 L580.3,704.2 L581.1,705.4 L581.8,706.7 L582.6,708.0 L583.4,709.3 L584.2,710.6 L584.9,711.9 L585.7,713.2 L586.5,714.4 L587.3,715.7 L588.1,717.0 L588.9,718.2 L589.7,719.5 L590.5,720.8 L591.3,722.0 L592.1,723.3 L592.9,724.6 L593.7,725.8 L594.5,727.1 L595.3,728.3 L596.1,729.5 L596.9,730.6 L597.5,731.7 L598.2,732.7 L598.7,733.5 L599.2,734.2" stroke="#ff0000"/>
</g>
<path d="M629.3,49.5v11.0M478.1,49.5v11.0M326.9,49.5v11.0M175.7,49.5v11.0M629.3,389.8v-11.0M478.1,389.8v-11.0M326.9,389.8v-11.0M175.7,389.8v-11.0M629.3,389.8v11.0M478.1,389.8v11.0M326.9,389.8v11.0M175.7,389.8v11.0M629.3,730.3v-11.0M478.1,730.3v-11.0M326.9,730.3v-11.0M175.7,730.3v-11.0M99.5,360.6h11.0M780.5,360.6h-11.0M99.5,290.3h11.0M780.5,290.3h-11.0M99.5,220.0h11.0M780.5,220.0h-11.0M99.5,149.7h11.0M780.5,149.7h-11.0M99.5,79.4h11.0M780.5,79.4h-11.0M99.5,700.6h11.0M780.5,700.6h-11.0M99.5,630.3h11.0M780.5,630.3h-11.0M99.5,560.0h11.0M780.5,560.0h-11.0M99.5,489.8h11.0M780.5,489.8h-11.0M99.5,419.4h11.0M780.5,419.4h-11.0" stroke="#000" stroke-width="2.8" fill="none"/>
<path d="M735.0,49.5v6.2M708.4,49.5v6.2M689.5,49.5v6.2M674.8,49.5v6.2M662.8,49.5v6.2M652.7,49.5v6.2M644.0,49.5v6.2M636.2,49.5v6.2M583.8,49.5v6.2M557.2,49.5v6.2M538.3,49.5v6.2M523.6,49.5v6.2M511.6,49.5v6.2M501.5,49.5v6.2M492.8,49.5v6.2M485.0,49.5v6.2M432.6,49.5v6.2M406.0,49.5v6.2M387.1,49.5v6.2M372.4,49.5v6.2M360.4,49.5v6.2M350.3,49.5v6.2M341.6,49.5v6.2M333.8,49.5v6.2M281.4,49.5v6.2M254.8,49.5v6.2M235.9,49.5v6.2M221.2,49.5v6.2M209.2,49.5v6.2M199.1,49.5v6.2M190.4,49.5v6.2M182.6,49.5v6.2M130.2,49.5v6.2M103.6,49.5v6.2M735.0,389.8v-6.2M708.4,389.8v-6.2M689.5,389.8v-6.2M674.8,389.8v-6.2M662.8,389.8v-6.2M652.7,389.8v-6.2M644.0,389.8v-6.2M636.2,389.8v-6.2M583.8,389.8v-6.2M557.2,389.8v-6.2M538.3,389.8v-6.2M523.6,389.8v-6.2M511.6,389.8v-6.2M501.5,389.8v-6.2M492.8,389.8v-6.2M485.0,389.8v-6.2M432.6,389.8v-6.2M406.0,389.8v-6.2M387.1,389.8v-6.2M372.4,389.8v-6.2M360.4,389.8v-6.2M350.3,389.8v-6.2M341.6,389.8v-6.2M333.8,389.8v-6.2M281.4,389.8v-6.2M254.8,389.8v-6.2M235.9,389.8v-6.2M221.2,389.8v-6.2M209.2,389.8v-6.2M199.1,389.8v-6.2M190.4,389.8v-6.2M182.6,389.8v-6.2M130.2,389.8v-6.2M103.6,389.8v-6.2M735.0,389.8v6.2M708.4,389.8v6.2M689.5,389.8v6.2M674.8,389.8v6.2M662.8,389.8v6.2M652.7,389.8v6.2M644.0,389.8v6.2M636.2,389.8v6.2M583.8,389.8v6.2M557.2,389.8v6.2M538.3,389.8v6.2M523.6,389.8v6.2M511.6,389.8v6.2M501.5,389.8v6.2M492.8,389.8v6.2M485.0,389.8v6.2M432.6,389.8v6.2M406.0,389.8v6.2M387.1,389.8v6.2M372.4,389.8v6.2M360.4,389.8v6.2M350.3,389.8v6.2M341.6,389.8v6.2M333.8,389.8v6.2M281.4,389.8v6.2M254.8,389.8v6.2M235.9,389.8v6.2M221.2,389.8v6.2M209.2,389.8v6.2M199.1,389.8v6.2M190.4,389.8v6.2M182.6,389.8v6.2M130.2,389.8v6.2M103.6,389.8v6.2M735.0,730.3v-6.2M708.4,730.3v-6.2M689.5,730.3v-6.2M674.8,730.3v-6.2M662.8,730.3v-6.2M652.7,730.3v-6.2M644.0,730.3v-6.2M636.2,730.3v-6.2M583.8,730.3v-6.2M557.2,730.3v-6.2M538.3,730.3v-6.2M523.6,730.3v-6.2M511.6,730.3v-6.2M501.5,730.3v-6.2M492.8,730.3v-6.2M485.0,730.3v-6.2M432.6,730.3v-6.2M406.0,730.3v-6.2M387.1,730.3v-6.2M372.4,730.3v-6.2M360.4,730.3v-6.2M350.3,730.3v-6.2M341.6,730.3v-6.2M333.8,730.3v-6.2M281.4,730.3v-6.2M254.8,730.3v-6.2M235.9,730.3v-6.2M221.2,730.3v-6.2M209.2,730.3v-6.2M199.1,730.3v-6.2M190.4,730.3v-6.2M182.6,730.3v-6.2M130.2,730.3v-6.2M103.6,730.3v-6.2M99.5,388.6h6.2M780.5,388.6h-6.2M99.5,381.8h6.2M780.5,381.8h-6.2M99.5,376.2h6.2M780.5,376.2h-6.2M99.5,371.5h6.2M780.5,371.5h-6.2M99.5,367.4h6.2M780.5,367.4h-6.2M99.5,363.8h6.2M780.5,363.8h-6.2M99.5,339.4h6.2M780.5,339.4h-6.2M99.5,327.1h6.2M780.5,327.1h-6.2M99.5,318.3h6.2M780.5,318.3h-6.2M99.5,311.5h6.2M780.5,311.5h-6.2M99.5,305.9h6.2M780.5,305.9h-6.2M99.5,301.2h6.2M780.5,301.2h-6.2M99.5,297.1h6.2M780.5,297.1h-6.2M99.5,293.5h6.2M780.5,293.5h-6.2M99.5,269.1h6.2M780.5,269.1h-6.2M99.5,256.8h6.2M780.5,256.8h-6.2M99.5,248.0h6.2M780.5,248.0h-6.2M99.5,241.2h6.2M780.5,241.2h-6.2M99.5,235.6h6.2M780.5,235.6h-6.2M99.5,230.9h6.2M780.5,230.9h-6.2M99.5,226.8h6.2M780.5,226.8h-6.2M99.5,223.2h6.2M780.5,223.2h-6.2M99.5,198.8h6.2M780.5,198.8h-6.2M99.5,186.5h6.2M780.5,186.5h-6.2M99.5,177.7h6.2M780.5,177.7h-6.2M99.5,170.9h6.2M780.5,170.9h-6.2M99.5,165.3h6.2M780.5,165.3h-6.2M99.5,160.6h6.2M780.5,160.6h-6.2M99.5,156.5h6.2M780.5,156.5h-6.2M99.5,152.9h6.2M780.5,152.9h-6.2M99.5,128.5h6.2M780.5,128.5h-6.2M99.5,116.2h6.2M780.5,116.2h-6.2M99.5,107.4h6.2M780.5,107.4h-6.2M99.5,100.6h6.2M780.5,100.6h-6.2M99.5,95.0h6.2M780.5,95.0h-6.2M99.5,90.3h6.2M780.5,90.3h-6.2M99.5,86.2h6.2M780.5,86.2h-6.2M99.5,82.6h6.2M780.5,82.6h-6.2M99.5,58.2h6.2M780.5,58.2h-6.2M99.5,728.6h6.2M780.5,728.6h-6.2M99.5,721.8h6.2M780.5,721.8h-6.2M99.5,716.2h6.2M780.5,716.2h-6.2M99.5,711.5h6.2M780.5,711.5h-6.2M99.5,707.5h6.2M780.5,707.5h-6.2M99.5,703.9h6.2M780.5,703.9h-6.2M99.5,679.5h6.2M780.5,679.5h-6.2M99.5,667.1h6.2M780.5,667.1h-6.2M99.5,658.3h6.2M780.5,658.3h-6.2M99.5,651.5h6.2M780.5,651.5h-6.2M99.5,645.9h6.2M780.5,645.9h-6.2M99.5,641.2h6.2M780.5,641.2h-6.2M99.5,637.2h6.2M780.5,637.2h-6.2M99.5,633.6h6.2M780.5,633.6h-6.2M99.5,609.2h6.2M780.5,609.2h-6.2M99.5,596.8h6.2M780.5,596.8h-6.2M99.5,588.0h6.2M780.5,588.0h-6.2M99.5,581.2h6.2M780.5,581.2h-6.2M99.5,575.6h6.2M780.5,575.6h-6.2M99.5,570.9h6.2M780.5,570.9h-6.2M99.5,566.9h6.2M780.5,566.9h-6.2M99.5,563.3h6.2M780.5,563.3h-6.2M99.5,538.9h6.2M780.5,538.9h-6.2M99.5,526.5h6.2M780.5,526.5h-6.2M99.5,517.7h6.2M780.5,517.7h-6.2M99.5,510.9h6.2M780.5,510.9h-6.2M99.5,505.3h6.2M780.5,505.3h-6.2M99.5,500.6h6.2M780.5,500.6h-6.2M99.5,496.6h6.2M780.5,496.6h-6.2M99.5,493.0h6.2M780.5,493.0h-6.2M99.5,468.6h6.2M780.5,468.6h-6.2M99.5,456.2h6.2M780.5,456.2h-6.2M99.5,447.4h6.2M780.5,447.4h-6.2M99.5,440.6h6.2M780.5,440.6h-6.2M99.5,435.0h6.2M780.5,435.0h-6.2M99.5,430.3h6.2M780.5,430.3h-6.2M99.5,426.3h6.2M780.5,426.3h-6.2M99.5,422.7h6.2M780.5,422.7h-6.2M99.5,398.3h6.2M780.5,398.3h-6.2" stroke="#000" stroke-width="2.6" fill="none"/>
<g fill="none" stroke="#000" stroke-width="3.0" stroke-linejoin="miter">
<rect x="99.5" y="49.5" width="681.0" height="680.8"/>
<path d="M99.5,389.8H780.5"/>
</g>
<g transform="translate(175.9,768.2)"><text x="-33.4" y="0" font-size="34.2">10</text><rect x="3.1" y="-19.2" width="14.4" height="1.6"/><text class="s" x="19.9" y="-13.1" font-size="24.0">2</text></g>
<g transform="translate(327.1,768.2)"><text x="-33.4" y="0" font-size="34.2">10</text><rect x="3.1" y="-19.2" width="14.4" height="1.6"/><text class="s" x="19.9" y="-13.1" font-size="24.0">3</text></g>
<g transform="translate(478.3,768.2)"><text x="-33.4" y="0" font-size="34.2">10</text><rect x="3.1" y="-19.2" width="14.4" height="1.6"/><text class="s" x="19.9" y="-13.1" font-size="24.0">4</text></g>
<g transform="translate(629.5,768.2)"><text x="-33.4" y="0" font-size="34.2">10</text><rect x="3.1" y="-19.2" width="14.4" height="1.6"/><text class="s" x="19.9" y="-13.1" font-size="24.0">5</text></g>
<g transform="translate(83.1,78.9) rotate(-90)"><text x="0" y="0" font-size="34.2" text-anchor="middle">1</text></g>
<g transform="translate(85.9,149.9) rotate(-90)"><text x="-33.4" y="0" font-size="34.2">10</text><rect x="3.1" y="-19.2" width="14.4" height="1.6"/><text class="s" x="19.9" y="-13.1" font-size="24.0">1</text></g>
<g transform="translate(85.9,220.2) rotate(-90)"><text x="-33.4" y="0" font-size="34.2">10</text><rect x="3.1" y="-19.2" width="14.4" height="1.6"/><text class="s" x="19.9" y="-13.1" font-size="24.0">2</text></g>
<g transform="translate(85.9,290.5) rotate(-90)"><text x="-33.4" y="0" font-size="34.2">10</text><rect x="3.1" y="-19.2" width="14.4" height="1.6"/><text class="s" x="19.9" y="-13.1" font-size="24.0">3</text></g>
<g transform="translate(85.9,360.8) rotate(-90)"><text x="-33.4" y="0" font-size="34.2">10</text><rect x="3.1" y="-19.2" width="14.4" height="1.6"/><text class="s" x="19.9" y="-13.1" font-size="24.0">4</text></g>
<g transform="translate(83.1,418.9) rotate(-90)"><text x="0" y="0" font-size="34.2" text-anchor="middle">1</text></g>
<g transform="translate(85.9,489.9) rotate(-90)"><text x="-33.4" y="0" font-size="34.2">10</text><rect x="3.1" y="-19.2" width="14.4" height="1.6"/><text class="s" x="19.9" y="-13.1" font-size="24.0">1</text></g>
<g transform="translate(85.9,560.2) rotate(-90)"><text x="-33.4" y="0" font-size="34.2">10</text><rect x="3.1" y="-19.2" width="14.4" height="1.6"/><text class="s" x="19.9" y="-13.1" font-size="24.0">2</text></g>
<g transform="translate(85.9,630.5) rotate(-90)"><text x="-33.4" y="0" font-size="34.2">10</text><rect x="3.1" y="-19.2" width="14.4" height="1.6"/><text class="s" x="19.9" y="-13.1" font-size="24.0">3</text></g>
<g transform="translate(85.9,700.9) rotate(-90)"><text x="-33.4" y="0" font-size="34.2">10</text><rect x="3.1" y="-19.2" width="14.4" height="1.6"/><text class="s" x="19.9" y="-13.1" font-size="24.0">4</text></g>
<g fill="#0000ff"><text class="s" x="153.8" y="213.6" font-size="24.0" text-anchor="end">14</text><text x="156.0" y="226.2" font-size="34.8">N</text></g>
<g fill="#000"><text class="s" x="414.6" y="159.0" font-size="24.0" text-anchor="end">1</text><text x="416.8" y="171.6" font-size="34.8">H</text></g>
<g fill="#ff0000"><text class="s" x="474.7" y="273.9" font-size="24.0" text-anchor="end">3</text><text x="476.9" y="286.5" font-size="34.8">He</text></g>
<g fill="#008000"><text class="s" x="626.5" y="305.2" font-size="24.0" text-anchor="end">4</text><text x="628.7" y="317.8" font-size="34.8">He</text></g>
<g fill="#0000ff"><text class="s" x="153.8" y="554.5" font-size="24.0" text-anchor="end">14</text><text x="156.0" y="567.1" font-size="34.8">N</text></g>
<g fill="#000"><text class="s" x="399.8" y="521.4" font-size="24.0" text-anchor="end">1</text><text x="402.0" y="534.0" font-size="34.8">H</text></g>
<g fill="#ff0000"><text class="s" x="460.3" y="611.2" font-size="24.0" text-anchor="end">3</text><text x="462.5" y="623.8" font-size="34.8">He</text></g>
<g fill="#008000"><text class="s" x="671.7" y="646.0" font-size="24.0" text-anchor="end">4</text><text x="673.9" y="658.6" font-size="34.8">He</text></g>
<g><text class="it" x="618.8" y="128.4" font-size="36">t</text><rect x="642.4" y="115.4" width="22.6" height="1.5"/><rect x="642.4" y="123.5" width="22.6" height="1.5"/><text x="676.0" y="128.4" font-size="34.2" textLength="32.0" lengthAdjust="spacingAndGlyphs">10</text><text x="709.4" y="116.4" font-size="24.0" class="s">8</text><text x="735.6" y="128.4" font-size="34.5" textLength="27.5" lengthAdjust="spacingAndGlyphs">yr</text></g>
<g><text class="it" x="559.4" y="468.8" font-size="36">t</text><rect x="582.8" y="455.8" width="24.0" height="1.5"/><rect x="582.8" y="463.9" width="24.0" height="1.5"/><text x="616.6" y="468.8" font-size="34.2">3</text><path d="M647.3,452.5L663.3,468.5M647.3,468.5L663.3,452.5" stroke="#000" stroke-width="1.5" fill="none"/><text x="676.6" y="468.8" font-size="34.2" textLength="30.5" lengthAdjust="spacingAndGlyphs">10</text><text x="708.6" y="456.8" font-size="24.0" class="s">9</text><text x="733.8" y="468.8" font-size="34.5" textLength="30" lengthAdjust="spacingAndGlyphs">yr</text></g>
<g>
<text class="it" x="254.0" y="804.7" font-size="40" textLength="35.4" lengthAdjust="spacingAndGlyphs">M</text>
<text x="287.9" y="809.9" font-size="27.5" textLength="58.0" lengthAdjust="spacingAndGlyphs">total</text>
<rect x="359.5" y="794.3" width="23.4" height="1.5"/>
<text class="it" x="398.0" y="804.7" font-size="40" textLength="35.0" lengthAdjust="spacingAndGlyphs">M</text>
<text x="432.8" y="809.9" font-size="27.5" textLength="99.0" lengthAdjust="spacingAndGlyphs">enclosed</text>
<path d="M556.6,775.4H551.9V812.4H556.6" stroke="#000" stroke-width="1.6" fill="none"/>
<path d="M619.3,775.4H624.0V812.4H619.3" stroke="#000" stroke-width="1.6" fill="none"/>
<text class="it" x="559.2" y="804.7" font-size="40" textLength="33.0" lengthAdjust="spacingAndGlyphs">M</text>
<circle cx="604.6" cy="803.9" r="8.8" stroke="#000" stroke-width="1.5" fill="none"/>
<circle cx="604.6" cy="803.9" r="2.1" fill="#000"/>
</g>
<g>
<text transform="translate(40.5,638.2) rotate(-90)" font-size="40.5" textLength="83.6" lengthAdjust="spacingAndGlyphs">Mass</text>
<text transform="translate(40.5,540.0) rotate(-90)" font-size="40.5" textLength="142.0" lengthAdjust="spacingAndGlyphs">fractions</text>
<text transform="translate(40.5,384.0) rotate(-90)" font-size="40.5" textLength="60.4" lengthAdjust="spacingAndGlyphs">and</text>
<text class="it" transform="translate(40.5,299.6) rotate(-90)" font-size="40.5" text-anchor="middle" textLength="21.5" lengthAdjust="spacingAndGlyphs">n</text>
<text class="it" transform="translate(40.5,281.4) rotate(-90)" font-size="40.5" text-anchor="middle" textLength="17.4" lengthAdjust="spacingAndGlyphs">k</text>
<text class="it" transform="translate(40.5,254.9) rotate(-90)" font-size="40.5" text-anchor="middle" textLength="25.6" lengthAdjust="spacingAndGlyphs">T</text>
<path d="M48.8,237.2L12.0,222.4" stroke="#000" stroke-width="1.5" fill="none"/>
<text class="it" transform="translate(40.5,205.0) rotate(-90)" font-size="40.5" text-anchor="middle" textLength="26.7" lengthAdjust="spacingAndGlyphs">P</text>
<text transform="translate(47.0,193.6) rotate(-90)" font-size="27.5" textLength="54.8" lengthAdjust="spacingAndGlyphs">total</text>
</g>
</svg></body></html>
